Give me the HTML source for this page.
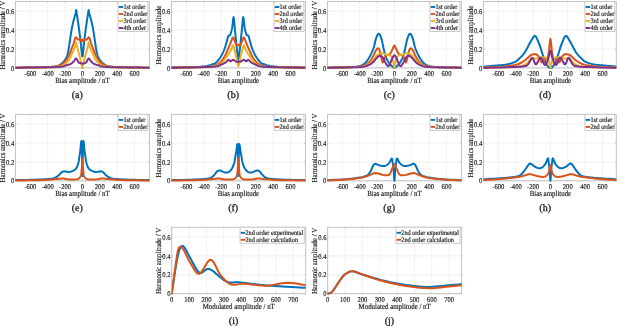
<!DOCTYPE html>
<html><head><meta charset="utf-8"><style>
html,body{margin:0;padding:0;background:#fff;width:617px;height:326px;overflow:hidden}
svg{display:block;will-change:transform}
text{stroke:#1a1a1a;stroke-width:0.15px;text-rendering:geometricPrecision}
.sub{stroke-width:0.3px}
</style></head><body><svg width="617" height="326" viewBox="0 0 617 326" font-family='"Liberation Serif", serif' fill="#1a1a1a"><clipPath id="c00"><rect x="15.40" y="0.50" width="134.00" height="68.60"/></clipPath><line x1="30.33" y1="1.50" x2="30.33" y2="67.90" stroke="#efefef" stroke-width="0.8"/><line x1="47.68" y1="1.50" x2="47.68" y2="67.90" stroke="#efefef" stroke-width="0.8"/><line x1="65.04" y1="1.50" x2="65.04" y2="67.90" stroke="#efefef" stroke-width="0.8"/><line x1="82.40" y1="1.50" x2="82.40" y2="67.90" stroke="#efefef" stroke-width="0.8"/><line x1="99.76" y1="1.50" x2="99.76" y2="67.90" stroke="#efefef" stroke-width="0.8"/><line x1="117.12" y1="1.50" x2="117.12" y2="67.90" stroke="#efefef" stroke-width="0.8"/><line x1="134.47" y1="1.50" x2="134.47" y2="67.90" stroke="#efefef" stroke-width="0.8"/><line x1="15.40" y1="67.90" x2="149.40" y2="67.90" stroke="#efefef" stroke-width="0.8"/><line x1="15.40" y1="49.01" x2="149.40" y2="49.01" stroke="#efefef" stroke-width="0.8"/><line x1="15.40" y1="30.12" x2="149.40" y2="30.12" stroke="#efefef" stroke-width="0.8"/><line x1="15.40" y1="11.23" x2="149.40" y2="11.23" stroke="#efefef" stroke-width="0.8"/><rect x="15.40" y="1.50" width="134.00" height="66.40" fill="none" stroke="#bdbdbd" stroke-width="0.9"/><line x1="30.33" y1="67.90" x2="30.33" y2="66.60" stroke="#bdbdbd" stroke-width="0.8"/><line x1="30.33" y1="1.50" x2="30.33" y2="2.80" stroke="#bdbdbd" stroke-width="0.8"/><line x1="47.68" y1="67.90" x2="47.68" y2="66.60" stroke="#bdbdbd" stroke-width="0.8"/><line x1="47.68" y1="1.50" x2="47.68" y2="2.80" stroke="#bdbdbd" stroke-width="0.8"/><line x1="65.04" y1="67.90" x2="65.04" y2="66.60" stroke="#bdbdbd" stroke-width="0.8"/><line x1="65.04" y1="1.50" x2="65.04" y2="2.80" stroke="#bdbdbd" stroke-width="0.8"/><line x1="82.40" y1="67.90" x2="82.40" y2="66.60" stroke="#bdbdbd" stroke-width="0.8"/><line x1="82.40" y1="1.50" x2="82.40" y2="2.80" stroke="#bdbdbd" stroke-width="0.8"/><line x1="99.76" y1="67.90" x2="99.76" y2="66.60" stroke="#bdbdbd" stroke-width="0.8"/><line x1="99.76" y1="1.50" x2="99.76" y2="2.80" stroke="#bdbdbd" stroke-width="0.8"/><line x1="117.12" y1="67.90" x2="117.12" y2="66.60" stroke="#bdbdbd" stroke-width="0.8"/><line x1="117.12" y1="1.50" x2="117.12" y2="2.80" stroke="#bdbdbd" stroke-width="0.8"/><line x1="134.47" y1="67.90" x2="134.47" y2="66.60" stroke="#bdbdbd" stroke-width="0.8"/><line x1="134.47" y1="1.50" x2="134.47" y2="2.80" stroke="#bdbdbd" stroke-width="0.8"/><line x1="15.40" y1="67.90" x2="16.70" y2="67.90" stroke="#bdbdbd" stroke-width="0.8"/><line x1="149.40" y1="67.90" x2="148.10" y2="67.90" stroke="#bdbdbd" stroke-width="0.8"/><line x1="15.40" y1="49.01" x2="16.70" y2="49.01" stroke="#bdbdbd" stroke-width="0.8"/><line x1="149.40" y1="49.01" x2="148.10" y2="49.01" stroke="#bdbdbd" stroke-width="0.8"/><line x1="15.40" y1="30.12" x2="16.70" y2="30.12" stroke="#bdbdbd" stroke-width="0.8"/><line x1="149.40" y1="30.12" x2="148.10" y2="30.12" stroke="#bdbdbd" stroke-width="0.8"/><line x1="15.40" y1="11.23" x2="16.70" y2="11.23" stroke="#bdbdbd" stroke-width="0.8"/><line x1="149.40" y1="11.23" x2="148.10" y2="11.23" stroke="#bdbdbd" stroke-width="0.8"/><g clip-path="url(#c00)" fill="none" stroke-width="2.0" stroke-linejoin="round" stroke-linecap="round"><polyline stroke="#0072BD" points="15.40,67.71 18.95,67.66 24.05,67.59 29.99,67.50 36.09,67.40 41.64,67.28 45.95,67.14 48.98,67.00 51.28,66.85 53.03,66.69 54.43,66.50 55.65,66.28 56.88,66.01 58.04,65.70 58.96,65.37 59.70,65.00 60.34,64.59 60.94,64.14 61.57,63.65 62.23,63.10 62.85,62.50 63.43,61.85 63.98,61.18 64.49,60.52 64.96,59.87 65.37,59.27 65.74,58.70 66.07,58.13 66.37,57.53 66.66,56.86 66.95,56.09 67.24,55.23 67.51,54.31 67.78,53.32 68.03,52.26 68.27,51.14 68.51,49.95 68.74,48.70 68.96,47.37 69.16,45.97 69.37,44.51 69.59,43.01 69.82,41.45 70.06,39.80 70.32,38.03 70.59,36.20 70.85,34.39 71.12,32.65 71.38,31.06 71.63,29.63 71.87,28.30 72.10,27.05 72.35,25.85 72.59,24.68 72.85,23.51 73.14,22.32 73.44,21.13 73.75,19.97 74.05,18.85 74.34,17.82 74.59,16.90 74.81,16.09 75.01,15.40 75.19,14.79 75.35,14.22 75.50,13.68 75.63,13.12 75.75,12.49 75.84,11.80 75.92,11.13 76.00,10.55 76.07,10.15 76.15,10.00 76.22,10.02 76.26,10.13 76.30,10.42 76.37,10.96 76.48,11.83 76.67,13.12 76.95,14.93 77.31,17.23 77.71,19.87 78.13,22.68 78.55,25.52 78.93,28.23 79.28,30.90 79.63,33.65 79.98,36.44 80.31,39.18 80.63,41.82 80.92,44.29 81.20,46.84 81.45,49.57 81.69,52.20 81.93,54.43 82.16,55.98 82.40,56.57 82.64,55.98 82.87,54.43 83.11,52.20 83.35,49.57 83.60,46.84 83.88,44.29 84.17,41.82 84.49,39.18 84.82,36.44 85.17,33.65 85.52,30.90 85.87,28.23 86.25,25.52 86.67,22.68 87.09,19.87 87.49,17.23 87.85,14.93 88.13,13.12 88.32,11.83 88.43,10.96 88.50,10.42 88.54,10.13 88.58,10.02 88.65,10.00 88.73,10.15 88.80,10.55 88.88,11.13 88.96,11.80 89.05,12.49 89.17,13.12 89.30,13.68 89.45,14.22 89.61,14.79 89.79,15.40 89.99,16.09 90.21,16.90 90.46,17.82 90.75,18.85 91.05,19.97 91.36,21.13 91.66,22.32 91.95,23.51 92.21,24.68 92.45,25.85 92.70,27.05 92.93,28.30 93.17,29.63 93.42,31.06 93.68,32.65 93.95,34.39 94.21,36.20 94.48,38.03 94.74,39.80 94.98,41.45 95.21,43.01 95.43,44.51 95.64,45.97 95.84,47.37 96.06,48.70 96.29,49.95 96.53,51.14 96.77,52.26 97.02,53.32 97.29,54.31 97.56,55.23 97.85,56.09 98.14,56.86 98.43,57.53 98.73,58.13 99.06,58.70 99.43,59.27 99.84,59.87 100.31,60.52 100.82,61.18 101.37,61.85 101.95,62.50 102.57,63.10 103.23,63.65 103.86,64.14 104.46,64.59 105.10,65.00 105.84,65.37 106.76,65.70 107.92,66.01 109.15,66.28 110.37,66.50 111.77,66.69 113.52,66.85 115.82,67.00 118.85,67.14 123.16,67.28 128.71,67.40 134.81,67.50 140.75,67.59 145.85,67.66 149.40,67.71"/><polyline stroke="#D95319" points="15.40,67.71 19.38,67.64 25.12,67.54 31.81,67.42 38.63,67.28 44.77,67.13 49.42,66.96 52.50,66.77 54.64,66.57 56.10,66.35 57.14,66.11 58.04,65.84 59.05,65.54 60.09,65.21 60.91,64.86 61.59,64.48 62.17,64.07 62.73,63.64 63.31,63.18 63.89,62.70 64.44,62.22 64.95,61.70 65.44,61.15 65.93,60.54 66.43,59.87 66.94,59.12 67.46,58.30 67.97,57.42 68.46,56.51 68.94,55.59 69.38,54.68 69.79,53.76 70.16,52.82 70.52,51.87 70.86,50.92 71.20,49.96 71.55,49.01 71.92,48.07 72.28,47.13 72.65,46.19 73.01,45.25 73.37,44.30 73.72,43.34 74.06,42.27 74.39,41.08 74.71,39.88 75.03,38.78 75.37,37.92 75.72,37.39 76.09,37.31 76.48,37.59 76.88,38.11 77.28,38.70 77.68,39.23 78.06,39.56 78.44,39.67 78.84,39.66 79.22,39.58 79.59,39.50 79.93,39.48 80.23,39.56 80.48,39.81 80.69,40.19 80.86,40.63 81.03,41.03 81.19,41.34 81.36,41.45 81.54,41.31 81.71,40.96 81.88,40.51 82.06,40.05 82.23,39.70 82.40,39.56 82.57,39.70 82.74,40.05 82.92,40.51 83.09,40.96 83.26,41.31 83.44,41.45 83.61,41.34 83.77,41.03 83.94,40.63 84.11,40.19 84.32,39.81 84.57,39.56 84.87,39.48 85.21,39.50 85.58,39.58 85.96,39.66 86.36,39.67 86.74,39.56 87.12,39.23 87.52,38.70 87.92,38.11 88.32,37.59 88.71,37.31 89.08,37.39 89.43,37.92 89.77,38.78 90.09,39.88 90.41,41.08 90.74,42.27 91.08,43.34 91.43,44.30 91.79,45.25 92.15,46.19 92.52,47.13 92.88,48.07 93.25,49.01 93.60,49.96 93.94,50.92 94.28,51.87 94.64,52.82 95.01,53.76 95.42,54.68 95.86,55.59 96.34,56.51 96.83,57.42 97.34,58.30 97.86,59.12 98.37,59.87 98.87,60.54 99.36,61.15 99.85,61.70 100.36,62.22 100.91,62.70 101.49,63.18 102.07,63.64 102.63,64.07 103.21,64.48 103.89,64.86 104.71,65.21 105.75,65.54 106.76,65.84 107.66,66.11 108.70,66.35 110.16,66.57 112.30,66.77 115.38,66.96 120.03,67.13 126.17,67.28 132.99,67.42 139.68,67.54 145.42,67.64 149.40,67.71"/><polyline stroke="#EDB120" points="15.40,67.81 19.38,67.76 25.12,67.70 31.81,67.63 38.63,67.54 44.77,67.44 49.42,67.33 52.50,67.21 54.64,67.07 56.10,66.91 57.14,66.75 58.04,66.57 59.05,66.39 60.09,66.20 60.91,66.01 61.59,65.80 62.17,65.58 62.73,65.34 63.31,65.07 63.89,64.77 64.44,64.45 64.95,64.12 65.44,63.75 65.93,63.34 66.43,62.89 66.94,62.40 67.47,61.86 67.98,61.29 68.48,60.68 68.95,60.05 69.38,59.40 69.75,58.73 70.06,58.05 70.34,57.33 70.62,56.59 70.93,55.80 71.29,54.96 71.73,54.04 72.22,53.04 72.74,52.00 73.26,50.96 73.74,49.95 74.16,49.01 74.52,48.11 74.84,47.22 75.14,46.36 75.40,45.56 75.62,44.86 75.80,44.29 75.94,43.84 76.02,43.50 76.06,43.25 76.08,43.08 76.11,42.99 76.15,42.96 76.15,42.80 76.07,42.45 76.00,42.19 76.00,42.24 76.14,42.86 76.50,44.29 77.18,46.96 78.16,50.75 79.28,55.11 80.39,59.48 81.37,63.30 82.05,66.01 82.41,67.52 82.55,68.25 82.55,68.43 82.48,68.28 82.40,68.03 82.40,67.90 82.40,68.03 82.32,68.28 82.25,68.43 82.25,68.25 82.39,67.52 82.75,66.01 83.43,63.30 84.41,59.48 85.52,55.11 86.64,50.75 87.62,46.96 88.30,44.29 88.66,42.86 88.80,42.24 88.80,42.19 88.73,42.45 88.65,42.80 88.65,42.96 88.69,42.99 88.72,43.08 88.74,43.25 88.78,43.50 88.86,43.84 89.00,44.29 89.18,44.86 89.40,45.56 89.66,46.36 89.96,47.22 90.28,48.11 90.64,49.01 91.06,49.95 91.54,50.96 92.06,52.00 92.58,53.04 93.07,54.04 93.51,54.96 93.87,55.80 94.18,56.59 94.46,57.33 94.74,58.05 95.05,58.73 95.42,59.40 95.85,60.05 96.32,60.68 96.82,61.29 97.33,61.86 97.86,62.40 98.37,62.89 98.87,63.34 99.36,63.75 99.85,64.12 100.36,64.45 100.91,64.77 101.49,65.07 102.07,65.34 102.63,65.58 103.21,65.80 103.89,66.01 104.71,66.20 105.75,66.39 106.76,66.57 107.66,66.75 108.70,66.91 110.16,67.07 112.30,67.21 115.38,67.33 120.03,67.44 126.17,67.54 132.99,67.63 139.68,67.70 145.42,67.76 149.40,67.81"/><polyline stroke="#7E2F8E" points="15.40,67.81 20.28,67.72 27.34,67.62 35.55,67.49 43.89,67.33 51.34,67.16 56.88,66.96 60.38,66.72 62.61,66.45 63.96,66.15 64.79,65.85 65.49,65.54 66.43,65.26 67.51,65.00 68.41,64.76 69.18,64.52 69.86,64.27 70.49,63.99 71.12,63.65 71.73,63.24 72.29,62.78 72.80,62.28 73.28,61.77 73.73,61.28 74.16,60.82 74.54,60.32 74.88,59.77 75.20,59.22 75.50,58.77 75.81,58.49 76.15,58.45 76.53,58.76 76.93,59.36 77.34,60.14 77.75,60.96 78.14,61.70 78.49,62.23 78.81,62.56 79.10,62.78 79.37,62.91 79.64,63.00 79.92,63.08 80.23,63.18 80.57,63.29 80.92,63.40 81.29,63.50 81.66,63.58 82.03,63.63 82.40,63.65 82.77,63.63 83.14,63.58 83.51,63.50 83.88,63.40 84.23,63.29 84.57,63.18 84.88,63.08 85.16,63.00 85.43,62.91 85.70,62.78 85.99,62.56 86.31,62.23 86.66,61.70 87.05,60.96 87.46,60.14 87.87,59.36 88.27,58.76 88.65,58.45 88.99,58.49 89.30,58.77 89.60,59.22 89.92,59.77 90.26,60.32 90.64,60.82 91.07,61.28 91.52,61.77 92.00,62.28 92.51,62.78 93.07,63.24 93.68,63.65 94.31,63.99 94.94,64.27 95.62,64.52 96.39,64.76 97.29,65.00 98.37,65.26 99.31,65.54 100.01,65.85 100.84,66.15 102.19,66.45 104.42,66.72 107.92,66.96 113.46,67.16 120.91,67.33 129.25,67.49 137.46,67.62 144.52,67.72 149.40,67.81"/></g><text transform="translate(30.33,75.90) scale(1,1.12)" font-size="6.6" text-anchor="middle">-600</text><text transform="translate(47.68,75.90) scale(1,1.12)" font-size="6.6" text-anchor="middle">-400</text><text transform="translate(65.04,75.90) scale(1,1.12)" font-size="6.6" text-anchor="middle">-200</text><text transform="translate(82.40,75.90) scale(1,1.12)" font-size="6.6" text-anchor="middle">0</text><text transform="translate(99.76,75.90) scale(1,1.12)" font-size="6.6" text-anchor="middle">200</text><text transform="translate(117.12,75.90) scale(1,1.12)" font-size="6.6" text-anchor="middle">400</text><text transform="translate(134.47,75.90) scale(1,1.12)" font-size="6.6" text-anchor="middle">600</text><text transform="translate(14.25,70.50) scale(1,1.12)" font-size="6.6" text-anchor="end">0</text><text transform="translate(14.25,51.61) scale(1,1.12)" font-size="6.6" text-anchor="end">0.2</text><text transform="translate(14.25,32.72) scale(1,1.12)" font-size="6.6" text-anchor="end">0.4</text><text transform="translate(14.25,13.83) scale(1,1.12)" font-size="6.6" text-anchor="end">0.6</text><text transform="translate(82.40,82.90) scale(1,1.12)" font-size="6.9" text-anchor="middle">Bias amplitude / nT</text><text transform="translate(5.00,35.20) rotate(-90) scale(1,1.12)" font-size="6.800000000000001" text-anchor="middle">Harmonics amplitude / V</text><text x="77.20" y="98.30" font-size="10" text-anchor="middle" class="sub">(a)</text><rect x="118.10" y="1.40" width="29.80" height="30.00" fill="#fff" stroke="#bdbdbd" stroke-width="0.8"/><line x1="118.70" y1="7.00" x2="123.30" y2="7.00" stroke="#0072BD" stroke-width="1.9"/><text transform="translate(123.50,9.10) scale(1,1.12)" font-size="6.2">1st order</text><line x1="118.70" y1="14.00" x2="123.30" y2="14.00" stroke="#D95319" stroke-width="1.9"/><text transform="translate(123.50,16.10) scale(1,1.12)" font-size="6.2">2nd order</text><line x1="118.70" y1="21.00" x2="123.30" y2="21.00" stroke="#EDB120" stroke-width="1.9"/><text transform="translate(123.50,23.10) scale(1,1.12)" font-size="6.2">3rd order</text><line x1="118.70" y1="28.00" x2="123.30" y2="28.00" stroke="#7E2F8E" stroke-width="1.9"/><text transform="translate(123.50,30.10) scale(1,1.12)" font-size="6.2">4th order</text><clipPath id="c10"><rect x="171.40" y="0.50" width="134.00" height="68.60"/></clipPath><line x1="186.33" y1="1.50" x2="186.33" y2="67.90" stroke="#efefef" stroke-width="0.8"/><line x1="203.68" y1="1.50" x2="203.68" y2="67.90" stroke="#efefef" stroke-width="0.8"/><line x1="221.04" y1="1.50" x2="221.04" y2="67.90" stroke="#efefef" stroke-width="0.8"/><line x1="238.40" y1="1.50" x2="238.40" y2="67.90" stroke="#efefef" stroke-width="0.8"/><line x1="255.76" y1="1.50" x2="255.76" y2="67.90" stroke="#efefef" stroke-width="0.8"/><line x1="273.12" y1="1.50" x2="273.12" y2="67.90" stroke="#efefef" stroke-width="0.8"/><line x1="290.47" y1="1.50" x2="290.47" y2="67.90" stroke="#efefef" stroke-width="0.8"/><line x1="171.40" y1="67.90" x2="305.40" y2="67.90" stroke="#efefef" stroke-width="0.8"/><line x1="171.40" y1="49.01" x2="305.40" y2="49.01" stroke="#efefef" stroke-width="0.8"/><line x1="171.40" y1="30.12" x2="305.40" y2="30.12" stroke="#efefef" stroke-width="0.8"/><line x1="171.40" y1="11.23" x2="305.40" y2="11.23" stroke="#efefef" stroke-width="0.8"/><rect x="171.40" y="1.50" width="134.00" height="66.40" fill="none" stroke="#bdbdbd" stroke-width="0.9"/><line x1="186.33" y1="67.90" x2="186.33" y2="66.60" stroke="#bdbdbd" stroke-width="0.8"/><line x1="186.33" y1="1.50" x2="186.33" y2="2.80" stroke="#bdbdbd" stroke-width="0.8"/><line x1="203.68" y1="67.90" x2="203.68" y2="66.60" stroke="#bdbdbd" stroke-width="0.8"/><line x1="203.68" y1="1.50" x2="203.68" y2="2.80" stroke="#bdbdbd" stroke-width="0.8"/><line x1="221.04" y1="67.90" x2="221.04" y2="66.60" stroke="#bdbdbd" stroke-width="0.8"/><line x1="221.04" y1="1.50" x2="221.04" y2="2.80" stroke="#bdbdbd" stroke-width="0.8"/><line x1="238.40" y1="67.90" x2="238.40" y2="66.60" stroke="#bdbdbd" stroke-width="0.8"/><line x1="238.40" y1="1.50" x2="238.40" y2="2.80" stroke="#bdbdbd" stroke-width="0.8"/><line x1="255.76" y1="67.90" x2="255.76" y2="66.60" stroke="#bdbdbd" stroke-width="0.8"/><line x1="255.76" y1="1.50" x2="255.76" y2="2.80" stroke="#bdbdbd" stroke-width="0.8"/><line x1="273.12" y1="67.90" x2="273.12" y2="66.60" stroke="#bdbdbd" stroke-width="0.8"/><line x1="273.12" y1="1.50" x2="273.12" y2="2.80" stroke="#bdbdbd" stroke-width="0.8"/><line x1="290.47" y1="67.90" x2="290.47" y2="66.60" stroke="#bdbdbd" stroke-width="0.8"/><line x1="290.47" y1="1.50" x2="290.47" y2="2.80" stroke="#bdbdbd" stroke-width="0.8"/><line x1="171.40" y1="67.90" x2="172.70" y2="67.90" stroke="#bdbdbd" stroke-width="0.8"/><line x1="305.40" y1="67.90" x2="304.10" y2="67.90" stroke="#bdbdbd" stroke-width="0.8"/><line x1="171.40" y1="49.01" x2="172.70" y2="49.01" stroke="#bdbdbd" stroke-width="0.8"/><line x1="305.40" y1="49.01" x2="304.10" y2="49.01" stroke="#bdbdbd" stroke-width="0.8"/><line x1="171.40" y1="30.12" x2="172.70" y2="30.12" stroke="#bdbdbd" stroke-width="0.8"/><line x1="305.40" y1="30.12" x2="304.10" y2="30.12" stroke="#bdbdbd" stroke-width="0.8"/><line x1="171.40" y1="11.23" x2="172.70" y2="11.23" stroke="#bdbdbd" stroke-width="0.8"/><line x1="305.40" y1="11.23" x2="304.10" y2="11.23" stroke="#bdbdbd" stroke-width="0.8"/><g clip-path="url(#c10)" fill="none" stroke-width="2.0" stroke-linejoin="round" stroke-linecap="round"><polyline stroke="#0072BD" points="171.40,67.52 174.65,67.45 179.33,67.35 184.78,67.23 190.36,67.09 195.43,66.93 199.35,66.77 202.07,66.58 204.10,66.37 205.62,66.14 206.81,65.91 207.84,65.67 208.89,65.44 209.88,65.22 210.66,64.99 211.28,64.76 211.80,64.53 212.29,64.32 212.80,64.12 213.28,63.99 213.69,63.94 214.06,63.89 214.44,63.79 214.87,63.58 215.40,63.18 216.05,62.58 216.79,61.83 217.58,60.96 218.39,60.01 219.18,59.01 219.91,57.98 220.60,56.93 221.28,55.81 221.93,54.65 222.56,53.43 223.16,52.18 223.73,50.90 224.27,49.54 224.77,48.09 225.25,46.61 225.69,45.13 226.11,43.71 226.51,42.40 226.87,41.15 227.19,39.91 227.48,38.73 227.76,37.65 228.04,36.72 228.33,35.98 228.64,35.54 228.94,35.40 229.24,35.40 229.55,35.41 229.85,35.27 230.16,34.84 230.47,34.11 230.79,33.17 231.12,32.10 231.43,30.93 231.72,29.72 231.98,28.51 232.20,27.25 232.40,25.85 232.58,24.42 232.74,23.03 232.88,21.75 233.02,20.67 233.14,19.75 233.23,18.90 233.31,18.16 233.39,17.59 233.46,17.22 233.54,17.08 233.61,17.11 233.67,17.25 233.73,17.59 233.80,18.22 233.91,19.22 234.06,20.67 234.27,22.73 234.52,25.36 234.80,28.35 235.11,31.53 235.41,34.70 235.71,37.68 236.01,40.59 236.34,43.63 236.67,46.67 236.99,49.56 237.28,52.18 237.53,54.39 237.73,56.27 237.89,57.93 238.03,59.32 238.15,60.38 238.27,61.05 238.40,61.29 238.53,61.05 238.65,60.38 238.77,59.32 238.91,57.93 239.07,56.27 239.27,54.39 239.52,52.18 239.81,49.56 240.13,46.67 240.46,43.63 240.79,40.59 241.09,37.68 241.39,34.70 241.69,31.53 242.00,28.35 242.28,25.36 242.53,22.73 242.74,20.67 242.89,19.22 243.00,18.22 243.07,17.59 243.13,17.25 243.19,17.11 243.26,17.08 243.34,17.22 243.41,17.59 243.49,18.16 243.57,18.90 243.66,19.75 243.78,20.67 243.92,21.75 244.06,23.03 244.22,24.42 244.40,25.85 244.60,27.25 244.82,28.51 245.08,29.72 245.37,30.93 245.68,32.10 246.01,33.17 246.33,34.11 246.64,34.84 246.95,35.27 247.25,35.41 247.56,35.40 247.86,35.40 248.16,35.54 248.47,35.98 248.76,36.72 249.04,37.65 249.32,38.73 249.61,39.91 249.93,41.15 250.29,42.40 250.69,43.71 251.11,45.13 251.55,46.61 252.03,48.09 252.53,49.54 253.07,50.90 253.64,52.18 254.24,53.43 254.87,54.65 255.52,55.81 256.20,56.93 256.89,57.98 257.62,59.01 258.41,60.01 259.22,60.96 260.01,61.83 260.75,62.58 261.40,63.18 261.93,63.58 262.36,63.79 262.74,63.89 263.11,63.94 263.52,63.99 264.00,64.12 264.51,64.32 265.00,64.53 265.52,64.76 266.14,64.99 266.92,65.22 267.91,65.44 268.96,65.67 269.99,65.91 271.18,66.14 272.70,66.37 274.73,66.58 277.45,66.77 281.37,66.93 286.44,67.09 292.02,67.23 297.47,67.35 302.15,67.45 305.40,67.52"/><polyline stroke="#D95319" points="171.40,67.71 175.97,67.57 182.60,67.39 190.29,67.16 198.08,66.91 204.98,66.65 210.02,66.39 213.01,66.13 214.71,65.86 215.53,65.59 215.86,65.29 216.11,64.96 216.70,64.59 217.53,64.21 218.24,63.81 218.88,63.39 219.48,62.92 220.07,62.38 220.70,61.76 221.33,61.09 221.95,60.40 222.56,59.64 223.18,58.77 223.83,57.76 224.51,56.57 225.27,55.08 226.10,53.31 226.95,51.40 227.79,49.48 228.55,47.69 229.20,46.18 229.73,44.93 230.16,43.84 230.53,42.88 230.85,42.03 231.15,41.25 231.46,40.51 231.75,39.78 232.00,39.08 232.24,38.45 232.46,37.95 232.69,37.61 232.93,37.49 233.19,37.63 233.44,38.00 233.70,38.54 233.96,39.19 234.22,39.86 234.49,40.51 234.78,41.19 235.08,41.97 235.39,42.79 235.69,43.58 235.97,44.26 236.23,44.76 236.45,45.07 236.65,45.23 236.84,45.29 237.01,45.28 237.18,45.25 237.36,45.23 237.54,45.20 237.71,45.11 237.88,45.00 238.06,44.88 238.23,44.79 238.40,44.76 238.57,44.79 238.74,44.88 238.92,45.00 239.09,45.11 239.26,45.20 239.44,45.23 239.62,45.25 239.79,45.28 239.96,45.29 240.15,45.23 240.35,45.07 240.57,44.76 240.83,44.26 241.11,43.58 241.41,42.79 241.72,41.97 242.02,41.19 242.31,40.51 242.58,39.86 242.84,39.19 243.10,38.54 243.36,38.00 243.61,37.63 243.87,37.49 244.11,37.61 244.34,37.95 244.56,38.45 244.80,39.08 245.05,39.78 245.34,40.51 245.65,41.25 245.95,42.03 246.27,42.88 246.64,43.84 247.07,44.93 247.60,46.18 248.25,47.69 249.01,49.48 249.85,51.40 250.70,53.31 251.53,55.08 252.29,56.57 252.97,57.76 253.62,58.77 254.24,59.64 254.85,60.40 255.47,61.09 256.10,61.76 256.73,62.38 257.32,62.92 257.92,63.39 258.56,63.81 259.27,64.21 260.10,64.59 260.69,64.96 260.94,65.29 261.27,65.59 262.09,65.86 263.79,66.13 266.78,66.39 271.82,66.65 278.72,66.91 286.51,67.16 294.20,67.39 300.83,67.57 305.40,67.71"/><polyline stroke="#EDB120" points="171.40,67.81 175.15,67.74 180.53,67.65 186.81,67.55 193.25,67.42 199.12,67.29 203.68,67.14 206.90,67.00 209.35,66.85 211.23,66.68 212.73,66.50 214.06,66.28 215.40,66.01 216.68,65.69 217.73,65.33 218.59,64.94 219.34,64.52 220.02,64.08 220.70,63.65 221.31,63.25 221.82,62.87 222.26,62.49 222.69,62.04 223.16,61.50 223.73,60.82 224.43,59.94 225.21,58.90 226.03,57.76 226.85,56.59 227.63,55.45 228.33,54.39 228.96,53.42 229.54,52.46 230.09,51.54 230.59,50.65 231.05,49.80 231.46,49.01 231.80,48.19 232.07,47.32 232.29,46.49 232.50,45.80 232.70,45.35 232.93,45.23 233.18,45.48 233.42,46.04 233.67,46.83 233.93,47.79 234.20,48.85 234.49,49.95 234.83,51.16 235.19,52.54 235.57,54.03 235.95,55.55 236.32,57.05 236.66,58.45 236.98,59.94 237.27,61.60 237.56,63.24 237.84,64.65 238.12,65.64 238.40,66.01 238.68,65.64 238.96,64.65 239.24,63.24 239.53,61.60 239.82,59.94 240.14,58.45 240.48,57.05 240.85,55.55 241.23,54.03 241.61,52.54 241.97,51.16 242.31,49.95 242.60,48.85 242.87,47.79 243.13,46.83 243.38,46.04 243.62,45.48 243.87,45.23 244.10,45.35 244.30,45.80 244.51,46.49 244.73,47.32 245.00,48.19 245.34,49.01 245.75,49.80 246.21,50.65 246.71,51.54 247.26,52.46 247.84,53.42 248.47,54.39 249.17,55.45 249.95,56.59 250.77,57.76 251.59,58.90 252.37,59.94 253.07,60.82 253.64,61.50 254.11,62.04 254.54,62.49 254.98,62.87 255.49,63.25 256.10,63.65 256.78,64.08 257.46,64.52 258.21,64.94 259.07,65.33 260.12,65.69 261.40,66.01 262.74,66.28 264.07,66.50 265.57,66.68 267.45,66.85 269.90,67.00 273.12,67.14 277.68,67.29 283.55,67.42 289.99,67.55 296.27,67.65 301.65,67.74 305.40,67.81"/><polyline stroke="#7E2F8E" points="171.40,67.81 176.23,67.71 183.22,67.58 191.34,67.42 199.58,67.24 206.93,67.02 212.36,66.77 215.72,66.47 217.79,66.13 218.97,65.76 219.63,65.37 220.20,64.98 221.04,64.59 222.09,64.21 223.01,63.82 223.81,63.43 224.54,63.03 225.20,62.63 225.82,62.23 226.37,61.80 226.83,61.31 227.23,60.82 227.60,60.38 227.95,60.05 228.33,59.87 228.72,59.92 229.10,60.17 229.47,60.52 229.84,60.89 230.21,61.17 230.59,61.29 230.98,61.19 231.38,60.94 231.78,60.61 232.17,60.27 232.56,60.00 232.93,59.87 233.29,59.89 233.63,60.01 233.97,60.20 234.30,60.41 234.61,60.63 234.93,60.82 235.23,60.98 235.53,61.17 235.81,61.35 236.10,61.52 236.38,61.66 236.66,61.76 236.95,61.82 237.24,61.83 237.53,61.82 237.82,61.80 238.11,61.77 238.40,61.76 238.69,61.77 238.98,61.80 239.27,61.82 239.56,61.83 239.85,61.82 240.14,61.76 240.42,61.66 240.70,61.52 240.99,61.35 241.27,61.17 241.57,60.98 241.87,60.82 242.19,60.63 242.50,60.41 242.83,60.20 243.17,60.01 243.51,59.89 243.87,59.87 244.24,60.00 244.63,60.27 245.02,60.61 245.42,60.94 245.82,61.19 246.21,61.29 246.59,61.17 246.96,60.89 247.33,60.52 247.70,60.17 248.08,59.92 248.47,59.87 248.85,60.05 249.20,60.38 249.57,60.82 249.97,61.31 250.43,61.80 250.98,62.23 251.60,62.63 252.26,63.03 252.99,63.43 253.79,63.82 254.71,64.21 255.76,64.59 256.60,64.98 257.17,65.37 257.83,65.76 259.01,66.13 261.08,66.47 264.44,66.77 269.87,67.02 277.22,67.24 285.46,67.42 293.58,67.58 300.57,67.71 305.40,67.81"/></g><text transform="translate(186.33,75.90) scale(1,1.12)" font-size="6.6" text-anchor="middle">-600</text><text transform="translate(203.68,75.90) scale(1,1.12)" font-size="6.6" text-anchor="middle">-400</text><text transform="translate(221.04,75.90) scale(1,1.12)" font-size="6.6" text-anchor="middle">-200</text><text transform="translate(238.40,75.90) scale(1,1.12)" font-size="6.6" text-anchor="middle">0</text><text transform="translate(255.76,75.90) scale(1,1.12)" font-size="6.6" text-anchor="middle">200</text><text transform="translate(273.12,75.90) scale(1,1.12)" font-size="6.6" text-anchor="middle">400</text><text transform="translate(290.47,75.90) scale(1,1.12)" font-size="6.6" text-anchor="middle">600</text><text transform="translate(170.25,70.50) scale(1,1.12)" font-size="6.6" text-anchor="end">0</text><text transform="translate(170.25,51.61) scale(1,1.12)" font-size="6.6" text-anchor="end">0.2</text><text transform="translate(170.25,32.72) scale(1,1.12)" font-size="6.6" text-anchor="end">0.4</text><text transform="translate(170.25,13.83) scale(1,1.12)" font-size="6.6" text-anchor="end">0.6</text><text transform="translate(238.40,82.90) scale(1,1.12)" font-size="6.9" text-anchor="middle">Bias amplitude</text><text transform="translate(161.00,35.20) rotate(-90) scale(1,1.12)" font-size="6.800000000000001" text-anchor="middle">Harmonics amplitude</text><text x="233.20" y="98.30" font-size="10" text-anchor="middle" class="sub">(b)</text><rect x="274.10" y="1.40" width="29.80" height="30.00" fill="#fff" stroke="#bdbdbd" stroke-width="0.8"/><line x1="274.70" y1="7.00" x2="279.30" y2="7.00" stroke="#0072BD" stroke-width="1.9"/><text transform="translate(279.50,9.10) scale(1,1.12)" font-size="6.2">1st order</text><line x1="274.70" y1="14.00" x2="279.30" y2="14.00" stroke="#D95319" stroke-width="1.9"/><text transform="translate(279.50,16.10) scale(1,1.12)" font-size="6.2">2nd order</text><line x1="274.70" y1="21.00" x2="279.30" y2="21.00" stroke="#EDB120" stroke-width="1.9"/><text transform="translate(279.50,23.10) scale(1,1.12)" font-size="6.2">3rd order</text><line x1="274.70" y1="28.00" x2="279.30" y2="28.00" stroke="#7E2F8E" stroke-width="1.9"/><text transform="translate(279.50,30.10) scale(1,1.12)" font-size="6.2">4th order</text><clipPath id="c20"><rect x="327.40" y="0.50" width="134.00" height="68.60"/></clipPath><line x1="342.33" y1="1.50" x2="342.33" y2="67.90" stroke="#efefef" stroke-width="0.8"/><line x1="359.68" y1="1.50" x2="359.68" y2="67.90" stroke="#efefef" stroke-width="0.8"/><line x1="377.04" y1="1.50" x2="377.04" y2="67.90" stroke="#efefef" stroke-width="0.8"/><line x1="394.40" y1="1.50" x2="394.40" y2="67.90" stroke="#efefef" stroke-width="0.8"/><line x1="411.76" y1="1.50" x2="411.76" y2="67.90" stroke="#efefef" stroke-width="0.8"/><line x1="429.12" y1="1.50" x2="429.12" y2="67.90" stroke="#efefef" stroke-width="0.8"/><line x1="446.47" y1="1.50" x2="446.47" y2="67.90" stroke="#efefef" stroke-width="0.8"/><line x1="327.40" y1="67.90" x2="461.40" y2="67.90" stroke="#efefef" stroke-width="0.8"/><line x1="327.40" y1="49.01" x2="461.40" y2="49.01" stroke="#efefef" stroke-width="0.8"/><line x1="327.40" y1="30.12" x2="461.40" y2="30.12" stroke="#efefef" stroke-width="0.8"/><line x1="327.40" y1="11.23" x2="461.40" y2="11.23" stroke="#efefef" stroke-width="0.8"/><rect x="327.40" y="1.50" width="134.00" height="66.40" fill="none" stroke="#bdbdbd" stroke-width="0.9"/><line x1="342.33" y1="67.90" x2="342.33" y2="66.60" stroke="#bdbdbd" stroke-width="0.8"/><line x1="342.33" y1="1.50" x2="342.33" y2="2.80" stroke="#bdbdbd" stroke-width="0.8"/><line x1="359.68" y1="67.90" x2="359.68" y2="66.60" stroke="#bdbdbd" stroke-width="0.8"/><line x1="359.68" y1="1.50" x2="359.68" y2="2.80" stroke="#bdbdbd" stroke-width="0.8"/><line x1="377.04" y1="67.90" x2="377.04" y2="66.60" stroke="#bdbdbd" stroke-width="0.8"/><line x1="377.04" y1="1.50" x2="377.04" y2="2.80" stroke="#bdbdbd" stroke-width="0.8"/><line x1="394.40" y1="67.90" x2="394.40" y2="66.60" stroke="#bdbdbd" stroke-width="0.8"/><line x1="394.40" y1="1.50" x2="394.40" y2="2.80" stroke="#bdbdbd" stroke-width="0.8"/><line x1="411.76" y1="67.90" x2="411.76" y2="66.60" stroke="#bdbdbd" stroke-width="0.8"/><line x1="411.76" y1="1.50" x2="411.76" y2="2.80" stroke="#bdbdbd" stroke-width="0.8"/><line x1="429.12" y1="67.90" x2="429.12" y2="66.60" stroke="#bdbdbd" stroke-width="0.8"/><line x1="429.12" y1="1.50" x2="429.12" y2="2.80" stroke="#bdbdbd" stroke-width="0.8"/><line x1="446.47" y1="67.90" x2="446.47" y2="66.60" stroke="#bdbdbd" stroke-width="0.8"/><line x1="446.47" y1="1.50" x2="446.47" y2="2.80" stroke="#bdbdbd" stroke-width="0.8"/><line x1="327.40" y1="67.90" x2="328.70" y2="67.90" stroke="#bdbdbd" stroke-width="0.8"/><line x1="461.40" y1="67.90" x2="460.10" y2="67.90" stroke="#bdbdbd" stroke-width="0.8"/><line x1="327.40" y1="49.01" x2="328.70" y2="49.01" stroke="#bdbdbd" stroke-width="0.8"/><line x1="461.40" y1="49.01" x2="460.10" y2="49.01" stroke="#bdbdbd" stroke-width="0.8"/><line x1="327.40" y1="30.12" x2="328.70" y2="30.12" stroke="#bdbdbd" stroke-width="0.8"/><line x1="461.40" y1="30.12" x2="460.10" y2="30.12" stroke="#bdbdbd" stroke-width="0.8"/><line x1="327.40" y1="11.23" x2="328.70" y2="11.23" stroke="#bdbdbd" stroke-width="0.8"/><line x1="461.40" y1="11.23" x2="460.10" y2="11.23" stroke="#bdbdbd" stroke-width="0.8"/><g clip-path="url(#c20)" fill="none" stroke-width="2.0" stroke-linejoin="round" stroke-linecap="round"><polyline stroke="#0072BD" points="327.40,67.71 330.14,67.66 334.07,67.59 338.66,67.50 343.37,67.40 347.66,67.28 351.01,67.14 353.36,67.01 355.13,66.87 356.50,66.72 357.60,66.54 358.61,66.30 359.68,66.01 360.77,65.66 361.73,65.26 362.60,64.82 363.39,64.32 364.15,63.78 364.89,63.18 365.59,62.55 366.21,61.92 366.80,61.23 367.37,60.45 367.97,59.54 368.62,58.45 369.36,57.16 370.16,55.69 370.98,54.09 371.79,52.40 372.55,50.69 373.22,49.01 373.79,47.27 374.29,45.41 374.73,43.53 375.15,41.71 375.56,40.05 376.00,38.62 376.45,37.37 376.90,36.21 377.35,35.21 377.80,34.41 378.24,33.89 378.69,33.71 379.14,33.87 379.59,34.34 380.03,35.09 380.48,36.07 380.93,37.26 381.38,38.62 381.85,40.31 382.33,42.38 382.81,44.65 383.29,46.95 383.74,49.09 384.16,50.90 384.53,52.35 384.87,53.59 385.18,54.68 385.49,55.66 385.81,56.58 386.16,57.51 386.53,58.42 386.90,59.26 387.29,60.05 387.70,60.80 388.13,61.52 388.59,62.23 389.08,62.94 389.62,63.63 390.18,64.30 390.74,64.93 391.29,65.50 391.80,66.01 392.27,66.48 392.71,66.92 393.14,67.31 393.55,67.62 393.97,67.83 394.40,67.90 394.83,67.83 395.25,67.62 395.66,67.31 396.09,66.92 396.53,66.48 397.00,66.01 397.51,65.50 398.06,64.93 398.62,64.30 399.18,63.63 399.72,62.94 400.21,62.23 400.67,61.52 401.10,60.80 401.51,60.05 401.90,59.26 402.27,58.42 402.64,57.51 402.99,56.58 403.31,55.66 403.62,54.68 403.93,53.59 404.27,52.35 404.64,50.90 405.06,49.09 405.51,46.95 405.99,44.65 406.47,42.38 406.95,40.31 407.42,38.62 407.87,37.26 408.32,36.07 408.77,35.09 409.21,34.34 409.66,33.87 410.11,33.71 410.56,33.89 411.00,34.41 411.45,35.21 411.90,36.21 412.35,37.37 412.80,38.62 413.24,40.05 413.65,41.71 414.07,43.53 414.51,45.41 415.01,47.27 415.58,49.01 416.25,50.69 417.01,52.40 417.82,54.09 418.64,55.69 419.44,57.16 420.18,58.45 420.83,59.54 421.43,60.45 422.00,61.23 422.59,61.92 423.21,62.55 423.91,63.18 424.65,63.78 425.41,64.32 426.20,64.82 427.07,65.26 428.03,65.66 429.12,66.01 430.19,66.30 431.20,66.54 432.30,66.72 433.67,66.87 435.44,67.01 437.79,67.14 441.14,67.28 445.43,67.40 450.14,67.50 454.73,67.59 458.66,67.66 461.40,67.71"/><polyline stroke="#D95319" points="327.40,67.71 331.18,67.61 336.63,67.49 342.98,67.33 349.46,67.13 355.28,66.85 359.68,66.48 362.58,66.03 364.56,65.50 365.90,64.90 366.85,64.23 367.67,63.50 368.62,62.71 369.63,61.82 370.45,60.85 371.15,59.81 371.77,58.73 372.36,57.64 372.96,56.57 373.57,55.43 374.14,54.20 374.68,52.96 375.20,51.79 375.69,50.76 376.17,49.95 376.64,49.34 377.09,48.85 377.52,48.51 377.93,48.33 378.32,48.33 378.69,48.54 379.03,48.98 379.33,49.65 379.62,50.50 379.90,51.50 380.19,52.59 380.51,53.73 380.87,55.14 381.24,56.87 381.63,58.71 382.02,60.40 382.40,61.72 382.77,62.42 383.13,62.36 383.47,61.70 383.82,60.66 384.16,59.46 384.50,58.34 384.85,57.51 385.20,56.96 385.54,56.50 385.88,56.11 386.23,55.77 386.61,55.46 387.02,55.15 387.48,54.90 387.99,54.73 388.51,54.59 389.05,54.41 389.57,54.15 390.06,53.73 390.53,53.12 390.99,52.36 391.44,51.50 391.88,50.62 392.29,49.76 392.66,49.01 393.00,48.28 393.31,47.49 393.59,46.75 393.85,46.12 394.12,45.68 394.40,45.51 394.68,45.68 394.95,46.12 395.21,46.75 395.49,47.49 395.80,48.28 396.14,49.01 396.51,49.76 396.92,50.62 397.36,51.50 397.81,52.36 398.27,53.12 398.74,53.73 399.23,54.15 399.75,54.41 400.29,54.59 400.81,54.73 401.32,54.90 401.78,55.15 402.19,55.46 402.57,55.77 402.92,56.11 403.26,56.50 403.60,56.96 403.95,57.51 404.30,58.34 404.64,59.46 404.98,60.66 405.33,61.70 405.67,62.36 406.03,62.42 406.40,61.72 406.78,60.40 407.17,58.71 407.56,56.87 407.93,55.14 408.29,53.73 408.61,52.59 408.90,51.50 409.18,50.50 409.47,49.65 409.77,48.98 410.11,48.54 410.48,48.33 410.87,48.33 411.28,48.51 411.71,48.85 412.16,49.34 412.63,49.95 413.11,50.76 413.60,51.79 414.12,52.96 414.66,54.20 415.23,55.43 415.84,56.57 416.44,57.64 417.03,58.73 417.65,59.81 418.35,60.85 419.17,61.82 420.18,62.71 421.13,63.50 421.95,64.23 422.90,64.90 424.24,65.50 426.22,66.03 429.12,66.48 433.52,66.85 439.34,67.13 445.82,67.33 452.17,67.49 457.62,67.61 461.40,67.71"/><polyline stroke="#EDB120" points="327.40,67.71 331.18,67.63 336.63,67.53 342.98,67.40 349.46,67.24 355.28,67.03 359.68,66.77 362.58,66.44 364.56,66.05 365.90,65.62 366.85,65.15 367.67,64.65 368.62,64.12 369.62,63.57 370.43,62.98 371.12,62.36 371.73,61.72 372.33,61.04 372.96,60.34 373.64,59.57 374.31,58.72 374.97,57.83 375.60,56.99 376.18,56.23 376.70,55.62 377.12,55.19 377.46,54.89 377.75,54.68 378.04,54.52 378.37,54.37 378.78,54.20 379.27,53.99 379.80,53.77 380.37,53.56 380.98,53.38 381.60,53.28 382.25,53.26 382.93,53.36 383.66,53.57 384.42,53.85 385.17,54.15 385.91,54.44 386.59,54.68 387.23,54.85 387.86,54.99 388.46,55.12 389.03,55.25 389.57,55.41 390.06,55.62 390.51,55.84 390.91,56.04 391.28,56.27 391.62,56.57 391.93,56.97 392.23,57.51 392.50,58.25 392.74,59.15 392.96,60.17 393.16,61.22 393.35,62.24 393.53,63.18 393.70,64.13 393.85,65.17 393.99,66.19 394.13,67.06 394.26,67.67 394.40,67.90 394.54,67.67 394.67,67.06 394.81,66.19 394.95,65.17 395.10,64.13 395.27,63.18 395.45,62.24 395.64,61.22 395.84,60.17 396.06,59.15 396.30,58.25 396.57,57.51 396.87,56.97 397.18,56.57 397.52,56.27 397.89,56.04 398.29,55.84 398.74,55.62 399.23,55.41 399.77,55.25 400.34,55.12 400.94,54.99 401.57,54.85 402.21,54.68 402.89,54.44 403.63,54.15 404.38,53.85 405.14,53.57 405.87,53.36 406.55,53.26 407.20,53.28 407.82,53.38 408.43,53.56 409.00,53.77 409.53,53.99 410.02,54.20 410.43,54.37 410.76,54.52 411.05,54.68 411.34,54.89 411.68,55.19 412.10,55.62 412.62,56.23 413.20,56.99 413.83,57.83 414.49,58.72 415.16,59.57 415.84,60.34 416.47,61.04 417.07,61.72 417.68,62.36 418.37,62.98 419.18,63.57 420.18,64.12 421.13,64.65 421.95,65.15 422.90,65.62 424.24,66.05 426.22,66.44 429.12,66.77 433.52,67.03 439.34,67.24 445.82,67.40 452.17,67.53 457.62,67.63 461.40,67.71"/><polyline stroke="#7E2F8E" points="327.40,67.81 331.18,67.73 336.63,67.62 342.98,67.50 349.46,67.35 355.28,67.17 359.68,66.96 362.58,66.71 364.56,66.44 365.90,66.13 366.85,65.80 367.67,65.45 368.62,65.07 369.62,64.67 370.43,64.24 371.12,63.80 371.73,63.32 372.33,62.80 372.96,62.23 373.63,61.58 374.27,60.84 374.90,60.07 375.51,59.30 376.11,58.59 376.70,57.98 377.27,57.46 377.82,56.96 378.36,56.52 378.89,56.17 379.40,55.92 379.91,55.81 380.39,55.82 380.85,55.94 381.31,56.17 381.75,56.51 382.21,56.95 382.68,57.51 383.18,58.26 383.70,59.20 384.22,60.26 384.74,61.34 385.25,62.34 385.72,63.18 386.17,63.90 386.60,64.59 387.01,65.20 387.40,65.70 387.78,66.05 388.15,66.20 388.50,66.13 388.82,65.86 389.12,65.44 389.42,64.90 389.73,64.29 390.06,63.65 390.41,62.91 390.76,62.04 391.13,61.09 391.50,60.14 391.87,59.24 392.23,58.45 392.59,57.73 392.95,57.00 393.32,56.32 393.68,55.76 394.04,55.38 394.40,55.24 394.76,55.38 395.12,55.76 395.48,56.32 395.85,57.00 396.21,57.73 396.57,58.45 396.93,59.24 397.30,60.14 397.67,61.09 398.04,62.04 398.39,62.91 398.74,63.65 399.07,64.29 399.38,64.90 399.68,65.44 399.98,65.86 400.30,66.13 400.65,66.20 401.02,66.05 401.40,65.70 401.79,65.20 402.20,64.59 402.63,63.90 403.08,63.18 403.55,62.34 404.06,61.34 404.58,60.26 405.10,59.20 405.62,58.26 406.12,57.51 406.59,56.95 407.05,56.51 407.49,56.17 407.95,55.94 408.41,55.82 408.89,55.81 409.40,55.92 409.91,56.17 410.44,56.52 410.98,56.96 411.53,57.46 412.10,57.98 412.69,58.59 413.29,59.30 413.90,60.07 414.53,60.84 415.17,61.58 415.84,62.23 416.47,62.80 417.07,63.32 417.68,63.80 418.37,64.24 419.18,64.67 420.18,65.07 421.13,65.45 421.95,65.80 422.90,66.13 424.24,66.44 426.22,66.71 429.12,66.96 433.52,67.17 439.34,67.35 445.82,67.50 452.17,67.62 457.62,67.73 461.40,67.81"/></g><text transform="translate(342.33,75.90) scale(1,1.12)" font-size="6.6" text-anchor="middle">-600</text><text transform="translate(359.68,75.90) scale(1,1.12)" font-size="6.6" text-anchor="middle">-400</text><text transform="translate(377.04,75.90) scale(1,1.12)" font-size="6.6" text-anchor="middle">-200</text><text transform="translate(394.40,75.90) scale(1,1.12)" font-size="6.6" text-anchor="middle">0</text><text transform="translate(411.76,75.90) scale(1,1.12)" font-size="6.6" text-anchor="middle">200</text><text transform="translate(429.12,75.90) scale(1,1.12)" font-size="6.6" text-anchor="middle">400</text><text transform="translate(446.47,75.90) scale(1,1.12)" font-size="6.6" text-anchor="middle">600</text><text transform="translate(326.25,70.50) scale(1,1.12)" font-size="6.6" text-anchor="end">0</text><text transform="translate(326.25,51.61) scale(1,1.12)" font-size="6.6" text-anchor="end">0.2</text><text transform="translate(326.25,32.72) scale(1,1.12)" font-size="6.6" text-anchor="end">0.4</text><text transform="translate(326.25,13.83) scale(1,1.12)" font-size="6.6" text-anchor="end">0.6</text><text transform="translate(394.40,82.90) scale(1,1.12)" font-size="6.9" text-anchor="middle">Bias amplitude / nT</text><text transform="translate(317.00,35.20) rotate(-90) scale(1,1.12)" font-size="6.800000000000001" text-anchor="middle">Harmonics amplitude / V</text><text x="389.20" y="98.30" font-size="10" text-anchor="middle" class="sub">(c)</text><rect x="430.10" y="1.40" width="29.80" height="30.00" fill="#fff" stroke="#bdbdbd" stroke-width="0.8"/><line x1="430.70" y1="7.00" x2="435.30" y2="7.00" stroke="#0072BD" stroke-width="1.9"/><text transform="translate(435.50,9.10) scale(1,1.12)" font-size="6.2">1st order</text><line x1="430.70" y1="14.00" x2="435.30" y2="14.00" stroke="#D95319" stroke-width="1.9"/><text transform="translate(435.50,16.10) scale(1,1.12)" font-size="6.2">2nd order</text><line x1="430.70" y1="21.00" x2="435.30" y2="21.00" stroke="#EDB120" stroke-width="1.9"/><text transform="translate(435.50,23.10) scale(1,1.12)" font-size="6.2">3rd order</text><line x1="430.70" y1="28.00" x2="435.30" y2="28.00" stroke="#7E2F8E" stroke-width="1.9"/><text transform="translate(435.50,30.10) scale(1,1.12)" font-size="6.2">4th order</text><clipPath id="c30"><rect x="483.40" y="0.50" width="132.90" height="68.60"/></clipPath><line x1="498.33" y1="1.50" x2="498.33" y2="67.90" stroke="#efefef" stroke-width="0.8"/><line x1="515.68" y1="1.50" x2="515.68" y2="67.90" stroke="#efefef" stroke-width="0.8"/><line x1="533.04" y1="1.50" x2="533.04" y2="67.90" stroke="#efefef" stroke-width="0.8"/><line x1="550.40" y1="1.50" x2="550.40" y2="67.90" stroke="#efefef" stroke-width="0.8"/><line x1="567.76" y1="1.50" x2="567.76" y2="67.90" stroke="#efefef" stroke-width="0.8"/><line x1="585.12" y1="1.50" x2="585.12" y2="67.90" stroke="#efefef" stroke-width="0.8"/><line x1="602.47" y1="1.50" x2="602.47" y2="67.90" stroke="#efefef" stroke-width="0.8"/><line x1="483.40" y1="67.90" x2="616.30" y2="67.90" stroke="#efefef" stroke-width="0.8"/><line x1="483.40" y1="49.01" x2="616.30" y2="49.01" stroke="#efefef" stroke-width="0.8"/><line x1="483.40" y1="30.12" x2="616.30" y2="30.12" stroke="#efefef" stroke-width="0.8"/><line x1="483.40" y1="11.23" x2="616.30" y2="11.23" stroke="#efefef" stroke-width="0.8"/><rect x="483.40" y="1.50" width="132.90" height="66.40" fill="none" stroke="#bdbdbd" stroke-width="0.9"/><line x1="498.33" y1="67.90" x2="498.33" y2="66.60" stroke="#bdbdbd" stroke-width="0.8"/><line x1="498.33" y1="1.50" x2="498.33" y2="2.80" stroke="#bdbdbd" stroke-width="0.8"/><line x1="515.68" y1="67.90" x2="515.68" y2="66.60" stroke="#bdbdbd" stroke-width="0.8"/><line x1="515.68" y1="1.50" x2="515.68" y2="2.80" stroke="#bdbdbd" stroke-width="0.8"/><line x1="533.04" y1="67.90" x2="533.04" y2="66.60" stroke="#bdbdbd" stroke-width="0.8"/><line x1="533.04" y1="1.50" x2="533.04" y2="2.80" stroke="#bdbdbd" stroke-width="0.8"/><line x1="550.40" y1="67.90" x2="550.40" y2="66.60" stroke="#bdbdbd" stroke-width="0.8"/><line x1="550.40" y1="1.50" x2="550.40" y2="2.80" stroke="#bdbdbd" stroke-width="0.8"/><line x1="567.76" y1="67.90" x2="567.76" y2="66.60" stroke="#bdbdbd" stroke-width="0.8"/><line x1="567.76" y1="1.50" x2="567.76" y2="2.80" stroke="#bdbdbd" stroke-width="0.8"/><line x1="585.12" y1="67.90" x2="585.12" y2="66.60" stroke="#bdbdbd" stroke-width="0.8"/><line x1="585.12" y1="1.50" x2="585.12" y2="2.80" stroke="#bdbdbd" stroke-width="0.8"/><line x1="602.47" y1="67.90" x2="602.47" y2="66.60" stroke="#bdbdbd" stroke-width="0.8"/><line x1="602.47" y1="1.50" x2="602.47" y2="2.80" stroke="#bdbdbd" stroke-width="0.8"/><line x1="483.40" y1="67.90" x2="484.70" y2="67.90" stroke="#bdbdbd" stroke-width="0.8"/><line x1="616.30" y1="67.90" x2="615.00" y2="67.90" stroke="#bdbdbd" stroke-width="0.8"/><line x1="483.40" y1="49.01" x2="484.70" y2="49.01" stroke="#bdbdbd" stroke-width="0.8"/><line x1="616.30" y1="49.01" x2="615.00" y2="49.01" stroke="#bdbdbd" stroke-width="0.8"/><line x1="483.40" y1="30.12" x2="484.70" y2="30.12" stroke="#bdbdbd" stroke-width="0.8"/><line x1="616.30" y1="30.12" x2="615.00" y2="30.12" stroke="#bdbdbd" stroke-width="0.8"/><line x1="483.40" y1="11.23" x2="484.70" y2="11.23" stroke="#bdbdbd" stroke-width="0.8"/><line x1="616.30" y1="11.23" x2="615.00" y2="11.23" stroke="#bdbdbd" stroke-width="0.8"/><g clip-path="url(#c30)" fill="none" stroke-width="2.0" stroke-linejoin="round" stroke-linecap="round"><polyline stroke="#0072BD" points="483.40,66.67 485.19,66.53 487.73,66.33 490.70,66.10 493.81,65.85 496.74,65.59 499.20,65.35 501.18,65.13 502.94,64.92 504.52,64.71 505.98,64.48 507.37,64.22 508.74,63.93 510.09,63.60 511.37,63.24 512.58,62.86 513.71,62.45 514.75,62.02 515.68,61.57 516.48,61.10 517.14,60.61 517.71,60.10 518.23,59.57 518.76,59.02 519.33,58.45 519.95,57.87 520.59,57.28 521.23,56.67 521.86,56.03 522.47,55.37 523.06,54.68 523.59,54.00 524.07,53.35 524.54,52.67 525.02,51.91 525.56,51.03 526.19,49.95 526.94,48.60 527.79,46.97 528.70,45.22 529.62,43.47 530.50,41.85 531.31,40.51 532.03,39.32 532.69,38.16 533.32,37.13 533.94,36.35 534.57,35.93 535.21,35.98 535.90,36.61 536.61,37.79 537.32,39.32 538.02,41.03 538.68,42.74 539.29,44.29 539.83,45.69 540.31,47.11 540.76,48.54 541.18,49.96 541.62,51.38 542.07,52.79 542.53,54.21 543.00,55.66 543.46,57.11 543.94,58.52 544.42,59.86 544.93,61.10 545.48,62.27 546.07,63.42 546.67,64.49 547.27,65.46 547.82,66.29 548.32,66.96 548.74,67.42 549.11,67.70 549.44,67.85 549.75,67.91 550.07,67.91 550.40,67.90 550.73,67.91 551.05,67.91 551.36,67.85 551.69,67.70 552.06,67.42 552.48,66.96 552.98,66.29 553.53,65.46 554.13,64.49 554.73,63.42 555.32,62.27 555.87,61.10 556.38,59.86 556.86,58.52 557.34,57.11 557.80,55.66 558.27,54.21 558.73,52.79 559.18,51.38 559.62,49.96 560.04,48.54 560.49,47.11 560.97,45.69 561.51,44.29 562.12,42.74 562.78,41.03 563.48,39.32 564.19,37.79 564.90,36.61 565.59,35.98 566.23,35.93 566.86,36.35 567.48,37.13 568.11,38.16 568.77,39.32 569.49,40.51 570.30,41.85 571.18,43.47 572.10,45.22 573.01,46.97 573.86,48.60 574.61,49.95 575.24,51.03 575.78,51.91 576.26,52.67 576.73,53.35 577.21,54.00 577.74,54.68 578.33,55.37 578.94,56.03 579.57,56.67 580.21,57.28 580.85,57.87 581.47,58.45 582.04,59.02 582.57,59.57 583.09,60.10 583.66,60.61 584.32,61.10 585.12,61.57 586.05,62.02 587.09,62.45 588.22,62.86 589.43,63.24 590.71,63.60 592.06,63.93 593.43,64.22 594.82,64.48 596.28,64.71 597.86,64.92 599.62,65.13 601.60,65.35 604.06,65.59 606.99,65.85 610.10,66.10 613.07,66.33 615.61,66.53 617.40,66.67"/><polyline stroke="#D95319" points="483.40,67.52 485.11,67.48 487.47,67.43 490.27,67.37 493.29,67.28 496.34,67.14 499.20,66.96 501.99,66.72 504.93,66.45 507.88,66.14 510.74,65.78 513.38,65.36 515.68,64.88 517.61,64.32 519.24,63.70 520.65,63.02 521.92,62.29 523.13,61.52 524.36,60.72 525.60,59.82 526.77,58.80 527.89,57.73 528.94,56.72 529.94,55.83 530.87,55.15 531.75,54.70 532.56,54.42 533.31,54.27 534.01,54.21 534.64,54.20 535.21,54.20 535.70,54.24 536.11,54.33 536.45,54.47 536.76,54.66 537.06,54.89 537.38,55.15 537.71,55.43 538.03,55.74 538.34,56.09 538.65,56.50 538.97,56.96 539.29,57.51 539.63,58.23 539.99,59.12 540.35,60.08 540.71,60.99 541.05,61.75 541.37,62.23 541.67,62.41 541.94,62.37 542.19,62.17 542.45,61.88 542.72,61.57 543.02,61.29 543.35,61.03 543.71,60.73 544.08,60.40 544.45,60.06 544.83,59.73 545.19,59.40 545.56,59.12 545.95,58.87 546.33,58.63 546.70,58.35 547.05,57.99 547.36,57.51 547.63,56.92 547.88,56.25 548.09,55.50 548.29,54.68 548.48,53.77 548.66,52.79 548.83,51.68 548.99,50.43 549.13,49.10 549.26,47.76 549.39,46.45 549.53,45.23 549.68,43.97 549.82,42.59 549.97,41.25 550.11,40.10 550.26,39.30 550.40,39.00 550.54,39.30 550.69,40.10 550.83,41.25 550.98,42.59 551.12,43.97 551.27,45.23 551.41,46.45 551.54,47.76 551.67,49.10 551.81,50.43 551.97,51.68 552.14,52.79 552.32,53.77 552.51,54.68 552.71,55.50 552.92,56.25 553.17,56.92 553.44,57.51 553.75,57.99 554.10,58.35 554.47,58.63 554.85,58.87 555.24,59.12 555.61,59.40 555.97,59.73 556.35,60.06 556.72,60.40 557.09,60.73 557.45,61.03 557.78,61.29 558.08,61.57 558.35,61.88 558.61,62.17 558.86,62.37 559.13,62.41 559.43,62.23 559.75,61.75 560.09,60.99 560.45,60.08 560.81,59.12 561.17,58.23 561.51,57.51 561.83,56.96 562.15,56.50 562.46,56.09 562.77,55.74 563.09,55.43 563.42,55.15 563.74,54.89 564.04,54.66 564.35,54.47 564.69,54.33 565.10,54.24 565.59,54.20 566.16,54.20 566.79,54.21 567.49,54.27 568.24,54.42 569.05,54.70 569.93,55.15 570.86,55.83 571.86,56.72 572.91,57.73 574.03,58.80 575.20,59.82 576.44,60.72 577.67,61.52 578.88,62.29 580.15,63.02 581.56,63.70 583.19,64.32 585.12,64.88 587.42,65.36 590.06,65.78 592.92,66.14 595.87,66.45 598.81,66.72 601.60,66.96 604.46,67.14 607.51,67.28 610.53,67.37 613.33,67.43 615.69,67.48 617.40,67.52"/><polyline stroke="#EDB120" points="483.40,67.71 487.19,67.62 492.64,67.50 499.00,67.36 505.48,67.19 511.30,66.99 515.68,66.77 518.56,66.52 520.52,66.23 521.83,65.93 522.73,65.60 523.49,65.25 524.36,64.88 525.25,64.49 525.92,64.08 526.45,63.64 526.90,63.19 527.34,62.72 527.84,62.23 528.35,61.69 528.82,61.07 529.27,60.44 529.75,59.84 530.27,59.32 530.87,58.93 531.58,58.68 532.38,58.56 533.23,58.51 534.09,58.51 534.91,58.50 535.65,58.45 536.29,58.38 536.87,58.30 537.41,58.22 537.94,58.14 538.50,58.06 539.12,57.98 539.79,57.89 540.50,57.77 541.23,57.66 541.98,57.56 542.72,57.51 543.46,57.51 544.21,57.54 545.01,57.58 545.80,57.66 546.56,57.81 547.23,58.06 547.80,58.45 548.22,59.02 548.54,59.75 548.78,60.58 548.98,61.46 549.16,62.35 549.36,63.18 549.56,64.07 549.74,65.10 549.91,66.13 550.07,67.03 550.23,67.66 550.40,67.90 550.57,67.66 550.73,67.03 550.89,66.13 551.06,65.10 551.24,64.07 551.44,63.18 551.64,62.35 551.82,61.46 552.02,60.58 552.26,59.75 552.58,59.02 553.00,58.45 553.57,58.06 554.24,57.81 555.00,57.66 555.79,57.58 556.59,57.54 557.34,57.51 558.08,57.51 558.82,57.56 559.57,57.66 560.30,57.77 561.01,57.89 561.68,57.98 562.30,58.06 562.86,58.14 563.39,58.22 563.93,58.30 564.51,58.38 565.15,58.45 565.89,58.50 566.71,58.51 567.57,58.51 568.42,58.56 569.22,58.68 569.93,58.93 570.53,59.32 571.05,59.84 571.53,60.44 571.98,61.07 572.45,61.69 572.96,62.23 573.46,62.72 573.90,63.19 574.35,63.64 574.88,64.08 575.55,64.49 576.44,64.88 577.31,65.25 578.07,65.60 578.97,65.93 580.28,66.23 582.24,66.52 585.12,66.77 589.50,66.99 595.32,67.19 601.80,67.36 608.16,67.50 613.61,67.62 617.40,67.71"/><polyline stroke="#7E2F8E" points="483.40,67.71 487.19,67.63 492.64,67.52 499.00,67.38 505.48,67.24 511.30,67.09 515.68,66.96 518.56,66.83 520.54,66.72 521.85,66.60 522.76,66.48 523.52,66.35 524.36,66.20 525.20,66.06 525.81,65.95 526.26,65.82 526.63,65.65 526.99,65.41 527.40,65.07 527.86,64.59 528.30,63.99 528.74,63.32 529.16,62.62 529.58,61.93 530.00,61.29 530.42,60.57 530.82,59.73 531.21,58.89 531.62,58.20 532.05,57.79 532.52,57.79 533.02,58.47 533.53,59.75 534.07,61.31 534.64,62.83 535.25,63.97 535.91,64.41 536.63,63.87 537.41,62.57 538.24,60.90 539.08,59.24 539.90,57.98 540.68,57.51 541.43,58.10 542.17,59.48 542.90,61.27 543.60,63.06 544.28,64.46 544.93,65.07 545.55,64.80 546.14,63.95 546.71,62.71 547.25,61.25 547.76,59.78 548.23,58.45 548.66,57.08 549.04,55.45 549.39,53.79 549.72,52.33 550.05,51.29 550.40,50.90 550.75,51.29 551.08,52.33 551.41,53.79 551.76,55.45 552.14,57.08 552.57,58.45 553.04,59.78 553.55,61.25 554.09,62.71 554.66,63.95 555.25,64.80 555.87,65.07 556.52,64.46 557.20,63.06 557.90,61.27 558.63,59.48 559.37,58.10 560.12,57.51 560.90,57.98 561.72,59.24 562.56,60.90 563.39,62.57 564.17,63.87 564.89,64.41 565.55,63.97 566.16,62.83 566.73,61.31 567.27,59.75 567.78,58.47 568.28,57.79 568.75,57.79 569.18,58.20 569.59,58.89 569.98,59.73 570.38,60.57 570.80,61.29 571.22,61.93 571.64,62.62 572.06,63.32 572.50,63.99 572.94,64.59 573.40,65.07 573.81,65.41 574.17,65.65 574.54,65.82 574.99,65.95 575.60,66.06 576.44,66.20 577.28,66.35 578.04,66.48 578.95,66.60 580.26,66.72 582.24,66.83 585.12,66.96 589.50,67.09 595.32,67.24 601.80,67.38 608.16,67.52 613.61,67.63 617.40,67.71"/></g><text transform="translate(498.33,75.90) scale(1,1.12)" font-size="6.6" text-anchor="middle">-600</text><text transform="translate(515.68,75.90) scale(1,1.12)" font-size="6.6" text-anchor="middle">-400</text><text transform="translate(533.04,75.90) scale(1,1.12)" font-size="6.6" text-anchor="middle">-200</text><text transform="translate(550.40,75.90) scale(1,1.12)" font-size="6.6" text-anchor="middle">0</text><text transform="translate(567.76,75.90) scale(1,1.12)" font-size="6.6" text-anchor="middle">200</text><text transform="translate(585.12,75.90) scale(1,1.12)" font-size="6.6" text-anchor="middle">400</text><text transform="translate(602.47,75.90) scale(1,1.12)" font-size="6.6" text-anchor="middle">600</text><text transform="translate(482.25,70.50) scale(1,1.12)" font-size="6.6" text-anchor="end">0</text><text transform="translate(482.25,51.61) scale(1,1.12)" font-size="6.6" text-anchor="end">0.2</text><text transform="translate(482.25,32.72) scale(1,1.12)" font-size="6.6" text-anchor="end">0.4</text><text transform="translate(482.25,13.83) scale(1,1.12)" font-size="6.6" text-anchor="end">0.6</text><text transform="translate(550.40,82.90) scale(1,1.12)" font-size="6.9" text-anchor="middle">Bias amplitude</text><text transform="translate(473.00,35.20) rotate(-90) scale(1,1.12)" font-size="6.800000000000001" text-anchor="middle">Harmonics amplitude</text><text x="545.20" y="98.30" font-size="10" text-anchor="middle" class="sub">(d)</text><rect x="585.00" y="1.40" width="29.80" height="30.00" fill="#fff" stroke="#bdbdbd" stroke-width="0.8"/><line x1="585.60" y1="7.00" x2="590.20" y2="7.00" stroke="#0072BD" stroke-width="1.9"/><text transform="translate(590.40,9.10) scale(1,1.12)" font-size="6.2">1st order</text><line x1="585.60" y1="14.00" x2="590.20" y2="14.00" stroke="#D95319" stroke-width="1.9"/><text transform="translate(590.40,16.10) scale(1,1.12)" font-size="6.2">2nd order</text><line x1="585.60" y1="21.00" x2="590.20" y2="21.00" stroke="#EDB120" stroke-width="1.9"/><text transform="translate(590.40,23.10) scale(1,1.12)" font-size="6.2">3rd order</text><line x1="585.60" y1="28.00" x2="590.20" y2="28.00" stroke="#7E2F8E" stroke-width="1.9"/><text transform="translate(590.40,30.10) scale(1,1.12)" font-size="6.2">4th order</text><clipPath id="c01"><rect x="15.40" y="113.40" width="134.00" height="68.60"/></clipPath><line x1="30.33" y1="114.40" x2="30.33" y2="180.80" stroke="#efefef" stroke-width="0.8"/><line x1="47.68" y1="114.40" x2="47.68" y2="180.80" stroke="#efefef" stroke-width="0.8"/><line x1="65.04" y1="114.40" x2="65.04" y2="180.80" stroke="#efefef" stroke-width="0.8"/><line x1="82.40" y1="114.40" x2="82.40" y2="180.80" stroke="#efefef" stroke-width="0.8"/><line x1="99.76" y1="114.40" x2="99.76" y2="180.80" stroke="#efefef" stroke-width="0.8"/><line x1="117.12" y1="114.40" x2="117.12" y2="180.80" stroke="#efefef" stroke-width="0.8"/><line x1="134.47" y1="114.40" x2="134.47" y2="180.80" stroke="#efefef" stroke-width="0.8"/><line x1="15.40" y1="180.80" x2="149.40" y2="180.80" stroke="#efefef" stroke-width="0.8"/><line x1="15.40" y1="161.91" x2="149.40" y2="161.91" stroke="#efefef" stroke-width="0.8"/><line x1="15.40" y1="143.02" x2="149.40" y2="143.02" stroke="#efefef" stroke-width="0.8"/><line x1="15.40" y1="124.13" x2="149.40" y2="124.13" stroke="#efefef" stroke-width="0.8"/><rect x="15.40" y="114.40" width="134.00" height="66.40" fill="none" stroke="#bdbdbd" stroke-width="0.9"/><line x1="30.33" y1="180.80" x2="30.33" y2="179.50" stroke="#bdbdbd" stroke-width="0.8"/><line x1="30.33" y1="114.40" x2="30.33" y2="115.70" stroke="#bdbdbd" stroke-width="0.8"/><line x1="47.68" y1="180.80" x2="47.68" y2="179.50" stroke="#bdbdbd" stroke-width="0.8"/><line x1="47.68" y1="114.40" x2="47.68" y2="115.70" stroke="#bdbdbd" stroke-width="0.8"/><line x1="65.04" y1="180.80" x2="65.04" y2="179.50" stroke="#bdbdbd" stroke-width="0.8"/><line x1="65.04" y1="114.40" x2="65.04" y2="115.70" stroke="#bdbdbd" stroke-width="0.8"/><line x1="82.40" y1="180.80" x2="82.40" y2="179.50" stroke="#bdbdbd" stroke-width="0.8"/><line x1="82.40" y1="114.40" x2="82.40" y2="115.70" stroke="#bdbdbd" stroke-width="0.8"/><line x1="99.76" y1="180.80" x2="99.76" y2="179.50" stroke="#bdbdbd" stroke-width="0.8"/><line x1="99.76" y1="114.40" x2="99.76" y2="115.70" stroke="#bdbdbd" stroke-width="0.8"/><line x1="117.12" y1="180.80" x2="117.12" y2="179.50" stroke="#bdbdbd" stroke-width="0.8"/><line x1="117.12" y1="114.40" x2="117.12" y2="115.70" stroke="#bdbdbd" stroke-width="0.8"/><line x1="134.47" y1="180.80" x2="134.47" y2="179.50" stroke="#bdbdbd" stroke-width="0.8"/><line x1="134.47" y1="114.40" x2="134.47" y2="115.70" stroke="#bdbdbd" stroke-width="0.8"/><line x1="15.40" y1="180.80" x2="16.70" y2="180.80" stroke="#bdbdbd" stroke-width="0.8"/><line x1="149.40" y1="180.80" x2="148.10" y2="180.80" stroke="#bdbdbd" stroke-width="0.8"/><line x1="15.40" y1="161.91" x2="16.70" y2="161.91" stroke="#bdbdbd" stroke-width="0.8"/><line x1="149.40" y1="161.91" x2="148.10" y2="161.91" stroke="#bdbdbd" stroke-width="0.8"/><line x1="15.40" y1="143.02" x2="16.70" y2="143.02" stroke="#bdbdbd" stroke-width="0.8"/><line x1="149.40" y1="143.02" x2="148.10" y2="143.02" stroke="#bdbdbd" stroke-width="0.8"/><line x1="15.40" y1="124.13" x2="16.70" y2="124.13" stroke="#bdbdbd" stroke-width="0.8"/><line x1="149.40" y1="124.13" x2="148.10" y2="124.13" stroke="#bdbdbd" stroke-width="0.8"/><g clip-path="url(#c01)" fill="none" stroke-width="2.0" stroke-linejoin="round" stroke-linecap="round"><polyline stroke="#0072BD" points="15.40,180.14 17.02,180.11 19.24,180.08 21.89,180.04 24.75,179.99 27.63,179.93 30.33,179.86 32.97,179.77 35.74,179.68 38.53,179.58 41.24,179.47 43.74,179.34 45.95,179.19 47.83,179.05 49.48,178.90 50.92,178.75 52.22,178.55 53.41,178.30 54.54,177.97 55.59,177.52 56.51,176.98 57.32,176.38 58.05,175.77 58.71,175.18 59.31,174.66 59.83,174.20 60.24,173.75 60.58,173.33 60.89,172.95 61.20,172.60 61.57,172.30 61.94,172.04 62.28,171.83 62.63,171.65 63.04,171.51 63.54,171.41 64.17,171.35 64.99,171.39 65.96,171.54 67.02,171.73 68.13,171.88 69.22,171.94 70.25,171.83 71.25,171.55 72.28,171.16 73.29,170.66 74.26,170.08 75.14,169.43 75.89,168.71 76.51,167.90 77.02,166.99 77.44,166.00 77.79,164.96 78.11,163.91 78.41,162.85 78.67,161.80 78.87,160.71 79.03,159.60 79.16,158.47 79.30,157.35 79.45,156.24 79.62,155.14 79.79,154.04 79.95,152.94 80.11,151.83 80.27,150.73 80.40,149.63 80.53,148.47 80.64,147.25 80.73,146.03 80.83,144.87 80.92,143.85 81.01,143.02 81.11,142.35 81.20,141.79 81.29,141.37 81.37,141.10 81.46,141.01 81.53,141.13 81.60,141.40 81.66,141.79 81.72,142.37 81.78,143.19 81.83,144.33 81.88,145.85 81.93,147.89 81.97,150.44 82.01,153.29 82.06,156.28 82.10,159.21 82.14,161.91 82.18,164.71 82.23,167.82 82.27,170.88 82.31,173.52 82.36,175.38 82.40,176.08 82.44,175.38 82.49,173.52 82.53,170.88 82.57,167.82 82.62,164.71 82.66,161.91 82.70,159.21 82.74,156.28 82.79,153.29 82.83,150.44 82.87,147.89 82.92,145.85 82.97,144.33 83.02,143.19 83.08,142.37 83.14,141.79 83.20,141.40 83.27,141.13 83.34,141.01 83.43,141.10 83.51,141.37 83.60,141.79 83.69,142.35 83.79,143.02 83.88,143.85 83.97,144.87 84.07,146.03 84.16,147.25 84.27,148.47 84.40,149.63 84.53,150.73 84.69,151.83 84.85,152.94 85.01,154.04 85.18,155.14 85.35,156.24 85.50,157.35 85.64,158.47 85.77,159.60 85.93,160.71 86.13,161.80 86.39,162.85 86.69,163.91 87.01,164.96 87.36,166.00 87.78,166.99 88.29,167.90 88.91,168.71 89.66,169.43 90.54,170.08 91.51,170.66 92.52,171.16 93.55,171.55 94.55,171.83 95.58,171.94 96.67,171.88 97.78,171.73 98.84,171.54 99.81,171.39 100.63,171.35 101.26,171.41 101.76,171.51 102.17,171.65 102.52,171.83 102.86,172.04 103.23,172.30 103.60,172.60 103.91,172.95 104.22,173.33 104.56,173.75 104.97,174.20 105.49,174.66 106.09,175.18 106.75,175.77 107.48,176.38 108.29,176.98 109.21,177.52 110.26,177.97 111.39,178.30 112.58,178.55 113.88,178.75 115.32,178.90 116.97,179.05 118.85,179.19 121.06,179.34 123.56,179.47 126.27,179.58 129.06,179.68 131.83,179.77 134.47,179.86 137.17,179.93 140.05,179.99 142.91,180.04 145.56,180.08 147.78,180.11 149.40,180.14"/><polyline stroke="#D95319" points="15.40,180.52 18.63,180.47 23.27,180.41 28.67,180.33 34.24,180.25 39.33,180.15 43.35,180.04 46.22,179.92 48.44,179.78 50.20,179.63 51.67,179.48 53.06,179.33 54.54,179.19 56.06,179.05 57.45,178.90 58.76,178.75 60.00,178.63 61.22,178.55 62.44,178.53 63.66,178.61 64.84,178.76 65.99,178.96 67.13,179.17 68.26,179.36 69.38,179.48 70.54,179.54 71.74,179.59 72.93,179.60 74.06,179.59 75.09,179.55 75.98,179.48 76.70,179.37 77.30,179.22 77.79,179.05 78.21,178.85 78.58,178.65 78.93,178.44 79.24,178.23 79.47,178.01 79.67,177.78 79.83,177.54 79.98,177.29 80.14,177.02 80.31,176.76 80.47,176.50 80.62,176.22 80.76,175.92 80.89,175.56 81.01,175.13 81.12,174.65 81.21,174.12 81.29,173.54 81.37,172.89 81.45,172.17 81.53,171.35 81.62,170.41 81.71,169.35 81.80,168.20 81.89,167.02 81.98,165.86 82.05,164.74 82.12,163.54 82.18,162.18 82.24,160.82 82.29,159.65 82.34,158.82 82.40,158.51 82.46,158.82 82.51,159.65 82.56,160.82 82.62,162.18 82.68,163.54 82.75,164.74 82.82,165.86 82.91,167.02 83.00,168.20 83.09,169.35 83.18,170.41 83.27,171.35 83.35,172.17 83.43,172.89 83.51,173.54 83.59,174.12 83.68,174.65 83.79,175.13 83.91,175.56 84.04,175.92 84.18,176.22 84.33,176.50 84.49,176.76 84.66,177.02 84.82,177.29 84.97,177.54 85.13,177.78 85.33,178.01 85.56,178.23 85.87,178.44 86.22,178.65 86.59,178.85 87.01,179.05 87.50,179.22 88.10,179.37 88.82,179.48 89.71,179.55 90.74,179.59 91.87,179.60 93.06,179.59 94.26,179.54 95.42,179.48 96.54,179.36 97.67,179.17 98.81,178.96 99.96,178.76 101.14,178.61 102.36,178.53 103.58,178.55 104.80,178.63 106.04,178.75 107.35,178.90 108.74,179.05 110.26,179.19 111.74,179.33 113.13,179.48 114.60,179.63 116.36,179.78 118.58,179.92 121.45,180.04 125.47,180.15 130.56,180.25 136.13,180.33 141.53,180.41 146.17,180.47 149.40,180.52"/></g><text transform="translate(30.33,188.80) scale(1,1.12)" font-size="6.6" text-anchor="middle">-600</text><text transform="translate(47.68,188.80) scale(1,1.12)" font-size="6.6" text-anchor="middle">-400</text><text transform="translate(65.04,188.80) scale(1,1.12)" font-size="6.6" text-anchor="middle">-200</text><text transform="translate(82.40,188.80) scale(1,1.12)" font-size="6.6" text-anchor="middle">0</text><text transform="translate(99.76,188.80) scale(1,1.12)" font-size="6.6" text-anchor="middle">200</text><text transform="translate(117.12,188.80) scale(1,1.12)" font-size="6.6" text-anchor="middle">400</text><text transform="translate(134.47,188.80) scale(1,1.12)" font-size="6.6" text-anchor="middle">600</text><text transform="translate(14.25,183.40) scale(1,1.12)" font-size="6.6" text-anchor="end">0</text><text transform="translate(14.25,164.51) scale(1,1.12)" font-size="6.6" text-anchor="end">0.2</text><text transform="translate(14.25,145.62) scale(1,1.12)" font-size="6.6" text-anchor="end">0.4</text><text transform="translate(14.25,126.73) scale(1,1.12)" font-size="6.6" text-anchor="end">0.6</text><text transform="translate(82.40,195.80) scale(1,1.12)" font-size="6.9" text-anchor="middle">Bias amplitude / nT</text><text transform="translate(5.00,148.10) rotate(-90) scale(1,1.12)" font-size="6.800000000000001" text-anchor="middle">Harmonics amplitude / V</text><text x="77.20" y="211.20" font-size="10" text-anchor="middle" class="sub">(e)</text><rect x="118.10" y="114.30" width="29.80" height="16.00" fill="#fff" stroke="#bdbdbd" stroke-width="0.8"/><line x1="118.70" y1="119.90" x2="123.30" y2="119.90" stroke="#0072BD" stroke-width="1.9"/><text transform="translate(123.50,122.00) scale(1,1.12)" font-size="6.2">1st order</text><line x1="118.70" y1="126.90" x2="123.30" y2="126.90" stroke="#D95319" stroke-width="1.9"/><text transform="translate(123.50,129.00) scale(1,1.12)" font-size="6.2">2nd order</text><clipPath id="c11"><rect x="171.40" y="113.40" width="134.00" height="68.60"/></clipPath><line x1="186.33" y1="114.40" x2="186.33" y2="180.80" stroke="#efefef" stroke-width="0.8"/><line x1="203.68" y1="114.40" x2="203.68" y2="180.80" stroke="#efefef" stroke-width="0.8"/><line x1="221.04" y1="114.40" x2="221.04" y2="180.80" stroke="#efefef" stroke-width="0.8"/><line x1="238.40" y1="114.40" x2="238.40" y2="180.80" stroke="#efefef" stroke-width="0.8"/><line x1="255.76" y1="114.40" x2="255.76" y2="180.80" stroke="#efefef" stroke-width="0.8"/><line x1="273.12" y1="114.40" x2="273.12" y2="180.80" stroke="#efefef" stroke-width="0.8"/><line x1="290.47" y1="114.40" x2="290.47" y2="180.80" stroke="#efefef" stroke-width="0.8"/><line x1="171.40" y1="180.80" x2="305.40" y2="180.80" stroke="#efefef" stroke-width="0.8"/><line x1="171.40" y1="161.91" x2="305.40" y2="161.91" stroke="#efefef" stroke-width="0.8"/><line x1="171.40" y1="143.02" x2="305.40" y2="143.02" stroke="#efefef" stroke-width="0.8"/><line x1="171.40" y1="124.13" x2="305.40" y2="124.13" stroke="#efefef" stroke-width="0.8"/><rect x="171.40" y="114.40" width="134.00" height="66.40" fill="none" stroke="#bdbdbd" stroke-width="0.9"/><line x1="186.33" y1="180.80" x2="186.33" y2="179.50" stroke="#bdbdbd" stroke-width="0.8"/><line x1="186.33" y1="114.40" x2="186.33" y2="115.70" stroke="#bdbdbd" stroke-width="0.8"/><line x1="203.68" y1="180.80" x2="203.68" y2="179.50" stroke="#bdbdbd" stroke-width="0.8"/><line x1="203.68" y1="114.40" x2="203.68" y2="115.70" stroke="#bdbdbd" stroke-width="0.8"/><line x1="221.04" y1="180.80" x2="221.04" y2="179.50" stroke="#bdbdbd" stroke-width="0.8"/><line x1="221.04" y1="114.40" x2="221.04" y2="115.70" stroke="#bdbdbd" stroke-width="0.8"/><line x1="238.40" y1="180.80" x2="238.40" y2="179.50" stroke="#bdbdbd" stroke-width="0.8"/><line x1="238.40" y1="114.40" x2="238.40" y2="115.70" stroke="#bdbdbd" stroke-width="0.8"/><line x1="255.76" y1="180.80" x2="255.76" y2="179.50" stroke="#bdbdbd" stroke-width="0.8"/><line x1="255.76" y1="114.40" x2="255.76" y2="115.70" stroke="#bdbdbd" stroke-width="0.8"/><line x1="273.12" y1="180.80" x2="273.12" y2="179.50" stroke="#bdbdbd" stroke-width="0.8"/><line x1="273.12" y1="114.40" x2="273.12" y2="115.70" stroke="#bdbdbd" stroke-width="0.8"/><line x1="290.47" y1="180.80" x2="290.47" y2="179.50" stroke="#bdbdbd" stroke-width="0.8"/><line x1="290.47" y1="114.40" x2="290.47" y2="115.70" stroke="#bdbdbd" stroke-width="0.8"/><line x1="171.40" y1="180.80" x2="172.70" y2="180.80" stroke="#bdbdbd" stroke-width="0.8"/><line x1="305.40" y1="180.80" x2="304.10" y2="180.80" stroke="#bdbdbd" stroke-width="0.8"/><line x1="171.40" y1="161.91" x2="172.70" y2="161.91" stroke="#bdbdbd" stroke-width="0.8"/><line x1="305.40" y1="161.91" x2="304.10" y2="161.91" stroke="#bdbdbd" stroke-width="0.8"/><line x1="171.40" y1="143.02" x2="172.70" y2="143.02" stroke="#bdbdbd" stroke-width="0.8"/><line x1="305.40" y1="143.02" x2="304.10" y2="143.02" stroke="#bdbdbd" stroke-width="0.8"/><line x1="171.40" y1="124.13" x2="172.70" y2="124.13" stroke="#bdbdbd" stroke-width="0.8"/><line x1="305.40" y1="124.13" x2="304.10" y2="124.13" stroke="#bdbdbd" stroke-width="0.8"/><g clip-path="url(#c11)" fill="none" stroke-width="2.0" stroke-linejoin="round" stroke-linecap="round"><polyline stroke="#0072BD" points="171.40,180.14 173.02,180.11 175.24,180.08 177.89,180.04 180.75,179.99 183.63,179.93 186.33,179.86 188.97,179.78 191.74,179.69 194.53,179.60 197.24,179.48 199.74,179.35 201.95,179.19 203.84,179.02 205.50,178.84 206.97,178.64 208.28,178.40 209.46,178.12 210.54,177.78 211.49,177.35 212.28,176.85 212.94,176.31 213.51,175.74 214.03,175.18 214.53,174.66 215.00,174.16 215.38,173.64 215.71,173.14 216.02,172.66 216.34,172.21 216.70,171.83 217.11,171.48 217.52,171.16 217.95,170.88 218.39,170.66 218.84,170.49 219.31,170.41 219.79,170.43 220.28,170.54 220.79,170.72 221.30,170.93 221.82,171.15 222.34,171.35 222.87,171.57 223.40,171.82 223.93,172.07 224.47,172.31 225.01,172.49 225.56,172.58 226.10,172.60 226.66,172.57 227.22,172.48 227.78,172.33 228.32,172.11 228.85,171.83 229.37,171.48 229.88,171.06 230.38,170.59 230.87,170.04 231.35,169.42 231.80,168.71 232.25,167.90 232.70,166.99 233.13,166.00 233.54,164.96 233.91,163.91 234.23,162.85 234.50,161.78 234.71,160.67 234.89,159.54 235.04,158.40 235.19,157.30 235.36,156.24 235.55,155.23 235.73,154.25 235.92,153.29 236.09,152.36 236.26,151.45 236.40,150.58 236.53,149.70 236.64,148.83 236.74,147.98 236.83,147.18 236.92,146.46 237.01,145.85 237.11,145.32 237.20,144.84 237.29,144.44 237.37,144.14 237.46,143.97 237.53,143.96 237.60,144.02 237.66,144.10 237.72,144.32 237.78,144.77 237.83,145.56 237.88,146.80 237.93,148.62 237.97,150.96 238.01,153.64 238.06,156.49 238.10,159.30 238.14,161.91 238.18,164.65 238.23,167.75 238.27,170.82 238.31,173.49 238.36,175.37 238.40,176.08 238.44,175.37 238.49,173.49 238.53,170.82 238.57,167.75 238.62,164.65 238.66,161.91 238.70,159.30 238.74,156.49 238.79,153.64 238.83,150.96 238.87,148.62 238.92,146.80 238.97,145.56 239.02,144.77 239.08,144.32 239.14,144.10 239.20,144.02 239.27,143.96 239.34,143.97 239.43,144.14 239.51,144.44 239.60,144.84 239.69,145.32 239.79,145.85 239.88,146.46 239.97,147.18 240.06,147.98 240.16,148.83 240.27,149.70 240.40,150.58 240.54,151.45 240.71,152.36 240.88,153.29 241.07,154.25 241.25,155.23 241.44,156.24 241.61,157.30 241.76,158.40 241.91,159.54 242.09,160.67 242.30,161.78 242.57,162.85 242.89,163.91 243.26,164.96 243.67,166.00 244.10,166.99 244.55,167.90 245.00,168.71 245.45,169.42 245.93,170.04 246.42,170.59 246.92,171.06 247.43,171.48 247.95,171.83 248.48,172.11 249.02,172.33 249.58,172.48 250.14,172.57 250.70,172.60 251.24,172.58 251.79,172.49 252.33,172.31 252.87,172.07 253.40,171.82 253.93,171.57 254.46,171.35 254.98,171.15 255.50,170.93 256.01,170.72 256.52,170.54 257.01,170.43 257.49,170.41 257.96,170.49 258.41,170.66 258.85,170.88 259.28,171.16 259.69,171.48 260.10,171.83 260.46,172.21 260.78,172.66 261.09,173.14 261.42,173.64 261.80,174.16 262.27,174.66 262.77,175.18 263.29,175.74 263.86,176.31 264.52,176.85 265.31,177.35 266.26,177.78 267.34,178.12 268.52,178.40 269.83,178.64 271.30,178.84 272.96,179.02 274.85,179.19 277.06,179.35 279.56,179.48 282.27,179.60 285.06,179.69 287.83,179.78 290.47,179.86 293.17,179.93 296.05,179.99 298.91,180.04 301.56,180.08 303.78,180.11 305.40,180.14"/><polyline stroke="#D95319" points="171.40,180.52 174.63,180.47 179.27,180.41 184.67,180.33 190.24,180.25 195.33,180.15 199.35,180.04 202.22,179.92 204.44,179.78 206.20,179.63 207.67,179.48 209.06,179.33 210.54,179.19 212.06,179.05 213.45,178.90 214.76,178.75 216.00,178.63 217.22,178.55 218.44,178.53 219.66,178.61 220.84,178.76 221.99,178.96 223.13,179.17 224.26,179.36 225.38,179.48 226.54,179.54 227.74,179.59 228.93,179.60 230.06,179.59 231.09,179.55 231.98,179.48 232.70,179.37 233.30,179.22 233.79,179.05 234.21,178.85 234.58,178.65 234.93,178.44 235.24,178.23 235.47,178.01 235.67,177.78 235.83,177.54 235.98,177.29 236.14,177.02 236.31,176.76 236.47,176.50 236.62,176.22 236.76,175.92 236.89,175.56 237.01,175.13 237.12,174.65 237.21,174.12 237.29,173.54 237.37,172.89 237.45,172.17 237.53,171.35 237.62,170.41 237.71,169.35 237.80,168.20 237.89,167.02 237.98,165.86 238.05,164.74 238.12,163.54 238.18,162.18 238.24,160.82 238.29,159.65 238.34,158.82 238.40,158.51 238.46,158.82 238.51,159.65 238.56,160.82 238.62,162.18 238.68,163.54 238.75,164.74 238.82,165.86 238.91,167.02 239.00,168.20 239.09,169.35 239.18,170.41 239.27,171.35 239.35,172.17 239.43,172.89 239.51,173.54 239.59,174.12 239.68,174.65 239.79,175.13 239.91,175.56 240.04,175.92 240.18,176.22 240.33,176.50 240.49,176.76 240.66,177.02 240.82,177.29 240.97,177.54 241.13,177.78 241.33,178.01 241.56,178.23 241.87,178.44 242.22,178.65 242.59,178.85 243.01,179.05 243.50,179.22 244.10,179.37 244.82,179.48 245.71,179.55 246.74,179.59 247.87,179.60 249.06,179.59 250.26,179.54 251.42,179.48 252.54,179.36 253.67,179.17 254.81,178.96 255.96,178.76 257.14,178.61 258.36,178.53 259.58,178.55 260.80,178.63 262.04,178.75 263.35,178.90 264.74,179.05 266.26,179.19 267.74,179.33 269.13,179.48 270.60,179.63 272.36,179.78 274.58,179.92 277.45,180.04 281.47,180.15 286.56,180.25 292.13,180.33 297.53,180.41 302.17,180.47 305.40,180.52"/></g><text transform="translate(186.33,188.80) scale(1,1.12)" font-size="6.6" text-anchor="middle">-600</text><text transform="translate(203.68,188.80) scale(1,1.12)" font-size="6.6" text-anchor="middle">-400</text><text transform="translate(221.04,188.80) scale(1,1.12)" font-size="6.6" text-anchor="middle">-200</text><text transform="translate(238.40,188.80) scale(1,1.12)" font-size="6.6" text-anchor="middle">0</text><text transform="translate(255.76,188.80) scale(1,1.12)" font-size="6.6" text-anchor="middle">200</text><text transform="translate(273.12,188.80) scale(1,1.12)" font-size="6.6" text-anchor="middle">400</text><text transform="translate(290.47,188.80) scale(1,1.12)" font-size="6.6" text-anchor="middle">600</text><text transform="translate(170.25,183.40) scale(1,1.12)" font-size="6.6" text-anchor="end">0</text><text transform="translate(170.25,164.51) scale(1,1.12)" font-size="6.6" text-anchor="end">0.2</text><text transform="translate(170.25,145.62) scale(1,1.12)" font-size="6.6" text-anchor="end">0.4</text><text transform="translate(170.25,126.73) scale(1,1.12)" font-size="6.6" text-anchor="end">0.6</text><text transform="translate(238.40,195.80) scale(1,1.12)" font-size="6.9" text-anchor="middle">Bias amplitude</text><text transform="translate(161.00,148.10) rotate(-90) scale(1,1.12)" font-size="6.800000000000001" text-anchor="middle">Harmonics amplitude</text><text x="233.20" y="211.20" font-size="10" text-anchor="middle" class="sub">(f)</text><rect x="274.10" y="114.30" width="29.80" height="16.00" fill="#fff" stroke="#bdbdbd" stroke-width="0.8"/><line x1="274.70" y1="119.90" x2="279.30" y2="119.90" stroke="#0072BD" stroke-width="1.9"/><text transform="translate(279.50,122.00) scale(1,1.12)" font-size="6.2">1st order</text><line x1="274.70" y1="126.90" x2="279.30" y2="126.90" stroke="#D95319" stroke-width="1.9"/><text transform="translate(279.50,129.00) scale(1,1.12)" font-size="6.2">2nd order</text><clipPath id="c21"><rect x="327.40" y="113.40" width="134.00" height="68.60"/></clipPath><line x1="342.33" y1="114.40" x2="342.33" y2="180.80" stroke="#efefef" stroke-width="0.8"/><line x1="359.68" y1="114.40" x2="359.68" y2="180.80" stroke="#efefef" stroke-width="0.8"/><line x1="377.04" y1="114.40" x2="377.04" y2="180.80" stroke="#efefef" stroke-width="0.8"/><line x1="394.40" y1="114.40" x2="394.40" y2="180.80" stroke="#efefef" stroke-width="0.8"/><line x1="411.76" y1="114.40" x2="411.76" y2="180.80" stroke="#efefef" stroke-width="0.8"/><line x1="429.12" y1="114.40" x2="429.12" y2="180.80" stroke="#efefef" stroke-width="0.8"/><line x1="446.47" y1="114.40" x2="446.47" y2="180.80" stroke="#efefef" stroke-width="0.8"/><line x1="327.40" y1="180.80" x2="461.40" y2="180.80" stroke="#efefef" stroke-width="0.8"/><line x1="327.40" y1="161.91" x2="461.40" y2="161.91" stroke="#efefef" stroke-width="0.8"/><line x1="327.40" y1="143.02" x2="461.40" y2="143.02" stroke="#efefef" stroke-width="0.8"/><line x1="327.40" y1="124.13" x2="461.40" y2="124.13" stroke="#efefef" stroke-width="0.8"/><rect x="327.40" y="114.40" width="134.00" height="66.40" fill="none" stroke="#bdbdbd" stroke-width="0.9"/><line x1="342.33" y1="180.80" x2="342.33" y2="179.50" stroke="#bdbdbd" stroke-width="0.8"/><line x1="342.33" y1="114.40" x2="342.33" y2="115.70" stroke="#bdbdbd" stroke-width="0.8"/><line x1="359.68" y1="180.80" x2="359.68" y2="179.50" stroke="#bdbdbd" stroke-width="0.8"/><line x1="359.68" y1="114.40" x2="359.68" y2="115.70" stroke="#bdbdbd" stroke-width="0.8"/><line x1="377.04" y1="180.80" x2="377.04" y2="179.50" stroke="#bdbdbd" stroke-width="0.8"/><line x1="377.04" y1="114.40" x2="377.04" y2="115.70" stroke="#bdbdbd" stroke-width="0.8"/><line x1="394.40" y1="180.80" x2="394.40" y2="179.50" stroke="#bdbdbd" stroke-width="0.8"/><line x1="394.40" y1="114.40" x2="394.40" y2="115.70" stroke="#bdbdbd" stroke-width="0.8"/><line x1="411.76" y1="180.80" x2="411.76" y2="179.50" stroke="#bdbdbd" stroke-width="0.8"/><line x1="411.76" y1="114.40" x2="411.76" y2="115.70" stroke="#bdbdbd" stroke-width="0.8"/><line x1="429.12" y1="180.80" x2="429.12" y2="179.50" stroke="#bdbdbd" stroke-width="0.8"/><line x1="429.12" y1="114.40" x2="429.12" y2="115.70" stroke="#bdbdbd" stroke-width="0.8"/><line x1="446.47" y1="180.80" x2="446.47" y2="179.50" stroke="#bdbdbd" stroke-width="0.8"/><line x1="446.47" y1="114.40" x2="446.47" y2="115.70" stroke="#bdbdbd" stroke-width="0.8"/><line x1="327.40" y1="180.80" x2="328.70" y2="180.80" stroke="#bdbdbd" stroke-width="0.8"/><line x1="461.40" y1="180.80" x2="460.10" y2="180.80" stroke="#bdbdbd" stroke-width="0.8"/><line x1="327.40" y1="161.91" x2="328.70" y2="161.91" stroke="#bdbdbd" stroke-width="0.8"/><line x1="461.40" y1="161.91" x2="460.10" y2="161.91" stroke="#bdbdbd" stroke-width="0.8"/><line x1="327.40" y1="143.02" x2="328.70" y2="143.02" stroke="#bdbdbd" stroke-width="0.8"/><line x1="461.40" y1="143.02" x2="460.10" y2="143.02" stroke="#bdbdbd" stroke-width="0.8"/><line x1="327.40" y1="124.13" x2="328.70" y2="124.13" stroke="#bdbdbd" stroke-width="0.8"/><line x1="461.40" y1="124.13" x2="460.10" y2="124.13" stroke="#bdbdbd" stroke-width="0.8"/><g clip-path="url(#c21)" fill="none" stroke-width="2.0" stroke-linejoin="round" stroke-linecap="round"><polyline stroke="#0072BD" points="327.40,180.23 329.45,180.14 332.34,180.02 335.73,179.87 339.32,179.69 342.78,179.50 345.80,179.29 348.48,179.04 351.12,178.75 353.62,178.44 355.93,178.13 357.98,177.84 359.68,177.59 360.97,177.38 361.87,177.21 362.51,177.05 363.00,176.90 363.46,176.74 364.02,176.55 364.66,176.36 365.26,176.19 365.84,176.01 366.40,175.79 366.95,175.51 367.50,175.13 368.03,174.66 368.56,174.12 369.07,173.51 369.57,172.84 370.06,172.12 370.53,171.35 371.00,170.48 371.45,169.47 371.89,168.40 372.32,167.37 372.73,166.44 373.14,165.69 373.51,165.12 373.84,164.66 374.17,164.30 374.50,164.04 374.87,163.88 375.31,163.80 375.80,163.85 376.35,164.05 376.93,164.34 377.54,164.67 378.16,164.98 378.78,165.22 379.41,165.39 380.08,165.55 380.76,165.70 381.43,165.82 382.08,165.91 382.68,165.97 383.24,166.01 383.74,166.05 384.23,166.05 384.71,166.01 385.20,165.89 385.72,165.69 386.28,165.38 386.88,164.99 387.48,164.52 388.08,164.00 388.66,163.44 389.19,162.85 389.70,162.12 390.19,161.20 390.66,160.23 391.09,159.37 391.47,158.75 391.80,158.51 392.04,158.70 392.21,159.20 392.33,159.95 392.43,160.86 392.53,161.85 392.66,162.85 392.82,163.87 392.98,164.97 393.15,166.15 393.31,167.42 393.47,168.77 393.62,170.22 393.76,172.04 393.89,174.29 394.02,176.63 394.15,178.72 394.27,180.22 394.40,180.80 394.53,180.22 394.65,178.72 394.78,176.63 394.91,174.29 395.04,172.04 395.18,170.22 395.33,168.77 395.49,167.42 395.65,166.15 395.82,164.97 395.98,163.87 396.14,162.85 396.27,161.85 396.37,160.86 396.47,159.95 396.59,159.20 396.76,158.70 397.00,158.51 397.33,158.75 397.71,159.37 398.14,160.23 398.61,161.20 399.10,162.12 399.61,162.85 400.14,163.44 400.72,164.00 401.32,164.52 401.92,164.99 402.52,165.38 403.08,165.69 403.60,165.89 404.09,166.01 404.57,166.05 405.06,166.05 405.56,166.01 406.12,165.97 406.72,165.91 407.37,165.82 408.04,165.70 408.72,165.55 409.39,165.39 410.02,165.22 410.64,164.98 411.26,164.67 411.87,164.34 412.45,164.05 413.00,163.85 413.49,163.80 413.93,163.88 414.30,164.04 414.63,164.30 414.96,164.66 415.29,165.12 415.66,165.69 416.07,166.44 416.48,167.37 416.91,168.40 417.35,169.47 417.80,170.48 418.27,171.35 418.74,172.12 419.23,172.84 419.73,173.51 420.24,174.12 420.77,174.66 421.30,175.13 421.85,175.51 422.40,175.79 422.96,176.01 423.54,176.19 424.14,176.36 424.78,176.55 425.34,176.74 425.80,176.90 426.29,177.05 426.93,177.21 427.83,177.38 429.12,177.59 430.82,177.84 432.87,178.13 435.18,178.44 437.68,178.75 440.32,179.04 443.00,179.29 446.02,179.50 449.48,179.69 453.07,179.87 456.46,180.02 459.35,180.14 461.40,180.23"/><polyline stroke="#D95319" points="327.40,180.42 329.00,180.36 331.18,180.29 333.78,180.20 336.62,180.09 339.53,179.94 342.33,179.76 345.18,179.53 348.25,179.27 351.40,178.97 354.45,178.65 357.27,178.31 359.68,177.97 361.65,177.61 363.29,177.23 364.68,176.83 365.92,176.43 367.12,176.02 368.36,175.61 369.60,175.14 370.74,174.60 371.84,174.05 372.93,173.57 374.07,173.21 375.31,173.05 376.69,173.16 378.20,173.50 379.75,173.97 381.29,174.46 382.72,174.89 383.99,175.13 385.08,175.25 386.06,175.34 386.94,175.36 387.75,175.26 388.49,175.01 389.19,174.57 389.83,173.86 390.40,172.91 390.90,171.80 391.36,170.64 391.80,169.52 392.23,168.52 392.64,167.55 393.02,166.50 393.37,165.49 393.71,164.62 394.05,164.02 394.40,163.80 394.75,164.02 395.09,164.62 395.43,165.49 395.78,166.50 396.16,167.55 396.57,168.52 397.00,169.52 397.44,170.64 397.90,171.80 398.40,172.91 398.97,173.86 399.61,174.57 400.31,175.01 401.05,175.26 401.86,175.36 402.74,175.34 403.72,175.25 404.81,175.13 406.08,174.89 407.51,174.46 409.05,173.97 410.60,173.50 412.11,173.16 413.49,173.05 414.73,173.21 415.87,173.57 416.96,174.05 418.06,174.60 419.20,175.14 420.44,175.61 421.68,176.02 422.88,176.43 424.12,176.83 425.51,177.23 427.15,177.61 429.12,177.97 431.53,178.31 434.35,178.65 437.40,178.97 440.55,179.27 443.62,179.53 446.47,179.76 449.27,179.94 452.18,180.09 455.02,180.20 457.62,180.29 459.80,180.36 461.40,180.42"/></g><text transform="translate(342.33,188.80) scale(1,1.12)" font-size="6.6" text-anchor="middle">-600</text><text transform="translate(359.68,188.80) scale(1,1.12)" font-size="6.6" text-anchor="middle">-400</text><text transform="translate(377.04,188.80) scale(1,1.12)" font-size="6.6" text-anchor="middle">-200</text><text transform="translate(394.40,188.80) scale(1,1.12)" font-size="6.6" text-anchor="middle">0</text><text transform="translate(411.76,188.80) scale(1,1.12)" font-size="6.6" text-anchor="middle">200</text><text transform="translate(429.12,188.80) scale(1,1.12)" font-size="6.6" text-anchor="middle">400</text><text transform="translate(446.47,188.80) scale(1,1.12)" font-size="6.6" text-anchor="middle">600</text><text transform="translate(326.25,183.40) scale(1,1.12)" font-size="6.6" text-anchor="end">0</text><text transform="translate(326.25,164.51) scale(1,1.12)" font-size="6.6" text-anchor="end">0.2</text><text transform="translate(326.25,145.62) scale(1,1.12)" font-size="6.6" text-anchor="end">0.4</text><text transform="translate(326.25,126.73) scale(1,1.12)" font-size="6.6" text-anchor="end">0.6</text><text transform="translate(394.40,195.80) scale(1,1.12)" font-size="6.9" text-anchor="middle">Bias amplitude / nT</text><text transform="translate(317.00,148.10) rotate(-90) scale(1,1.12)" font-size="6.800000000000001" text-anchor="middle">Harmonics amplitude / V</text><text x="389.20" y="211.20" font-size="10" text-anchor="middle" class="sub">(g)</text><rect x="430.10" y="114.30" width="29.80" height="16.00" fill="#fff" stroke="#bdbdbd" stroke-width="0.8"/><line x1="430.70" y1="119.90" x2="435.30" y2="119.90" stroke="#0072BD" stroke-width="1.9"/><text transform="translate(435.50,122.00) scale(1,1.12)" font-size="6.2">1st order</text><line x1="430.70" y1="126.90" x2="435.30" y2="126.90" stroke="#D95319" stroke-width="1.9"/><text transform="translate(435.50,129.00) scale(1,1.12)" font-size="6.2">2nd order</text><clipPath id="c31"><rect x="483.40" y="113.40" width="132.90" height="68.60"/></clipPath><line x1="498.33" y1="114.40" x2="498.33" y2="180.80" stroke="#efefef" stroke-width="0.8"/><line x1="515.68" y1="114.40" x2="515.68" y2="180.80" stroke="#efefef" stroke-width="0.8"/><line x1="533.04" y1="114.40" x2="533.04" y2="180.80" stroke="#efefef" stroke-width="0.8"/><line x1="550.40" y1="114.40" x2="550.40" y2="180.80" stroke="#efefef" stroke-width="0.8"/><line x1="567.76" y1="114.40" x2="567.76" y2="180.80" stroke="#efefef" stroke-width="0.8"/><line x1="585.12" y1="114.40" x2="585.12" y2="180.80" stroke="#efefef" stroke-width="0.8"/><line x1="602.47" y1="114.40" x2="602.47" y2="180.80" stroke="#efefef" stroke-width="0.8"/><line x1="483.40" y1="180.80" x2="616.30" y2="180.80" stroke="#efefef" stroke-width="0.8"/><line x1="483.40" y1="161.91" x2="616.30" y2="161.91" stroke="#efefef" stroke-width="0.8"/><line x1="483.40" y1="143.02" x2="616.30" y2="143.02" stroke="#efefef" stroke-width="0.8"/><line x1="483.40" y1="124.13" x2="616.30" y2="124.13" stroke="#efefef" stroke-width="0.8"/><rect x="483.40" y="114.40" width="132.90" height="66.40" fill="none" stroke="#bdbdbd" stroke-width="0.9"/><line x1="498.33" y1="180.80" x2="498.33" y2="179.50" stroke="#bdbdbd" stroke-width="0.8"/><line x1="498.33" y1="114.40" x2="498.33" y2="115.70" stroke="#bdbdbd" stroke-width="0.8"/><line x1="515.68" y1="180.80" x2="515.68" y2="179.50" stroke="#bdbdbd" stroke-width="0.8"/><line x1="515.68" y1="114.40" x2="515.68" y2="115.70" stroke="#bdbdbd" stroke-width="0.8"/><line x1="533.04" y1="180.80" x2="533.04" y2="179.50" stroke="#bdbdbd" stroke-width="0.8"/><line x1="533.04" y1="114.40" x2="533.04" y2="115.70" stroke="#bdbdbd" stroke-width="0.8"/><line x1="550.40" y1="180.80" x2="550.40" y2="179.50" stroke="#bdbdbd" stroke-width="0.8"/><line x1="550.40" y1="114.40" x2="550.40" y2="115.70" stroke="#bdbdbd" stroke-width="0.8"/><line x1="567.76" y1="180.80" x2="567.76" y2="179.50" stroke="#bdbdbd" stroke-width="0.8"/><line x1="567.76" y1="114.40" x2="567.76" y2="115.70" stroke="#bdbdbd" stroke-width="0.8"/><line x1="585.12" y1="180.80" x2="585.12" y2="179.50" stroke="#bdbdbd" stroke-width="0.8"/><line x1="585.12" y1="114.40" x2="585.12" y2="115.70" stroke="#bdbdbd" stroke-width="0.8"/><line x1="602.47" y1="180.80" x2="602.47" y2="179.50" stroke="#bdbdbd" stroke-width="0.8"/><line x1="602.47" y1="114.40" x2="602.47" y2="115.70" stroke="#bdbdbd" stroke-width="0.8"/><line x1="483.40" y1="180.80" x2="484.70" y2="180.80" stroke="#bdbdbd" stroke-width="0.8"/><line x1="616.30" y1="180.80" x2="615.00" y2="180.80" stroke="#bdbdbd" stroke-width="0.8"/><line x1="483.40" y1="161.91" x2="484.70" y2="161.91" stroke="#bdbdbd" stroke-width="0.8"/><line x1="616.30" y1="161.91" x2="615.00" y2="161.91" stroke="#bdbdbd" stroke-width="0.8"/><line x1="483.40" y1="143.02" x2="484.70" y2="143.02" stroke="#bdbdbd" stroke-width="0.8"/><line x1="616.30" y1="143.02" x2="615.00" y2="143.02" stroke="#bdbdbd" stroke-width="0.8"/><line x1="483.40" y1="124.13" x2="484.70" y2="124.13" stroke="#bdbdbd" stroke-width="0.8"/><line x1="616.30" y1="124.13" x2="615.00" y2="124.13" stroke="#bdbdbd" stroke-width="0.8"/><g clip-path="url(#c31)" fill="none" stroke-width="2.0" stroke-linejoin="round" stroke-linecap="round"><polyline stroke="#0072BD" points="483.40,179.29 485.31,179.18 488.02,179.04 491.19,178.86 494.48,178.68 497.56,178.50 500.06,178.34 501.97,178.21 503.53,178.10 504.88,177.99 506.12,177.88 507.37,177.75 508.74,177.59 510.29,177.40 511.94,177.20 513.60,176.98 515.18,176.75 516.60,176.51 517.77,176.27 518.62,176.05 519.22,175.85 519.66,175.65 520.02,175.40 520.40,175.08 520.89,174.66 521.49,174.11 522.11,173.46 522.75,172.73 523.40,171.96 524.03,171.18 524.62,170.41 525.20,169.62 525.76,168.78 526.31,167.92 526.84,167.09 527.35,166.33 527.84,165.69 528.27,165.12 528.65,164.58 529.02,164.11 529.40,163.75 529.83,163.54 530.35,163.52 530.98,163.75 531.69,164.22 532.45,164.84 533.23,165.51 534.02,166.14 534.78,166.63 535.53,167.02 536.29,167.38 537.06,167.70 537.81,167.96 538.53,168.15 539.20,168.24 539.83,168.24 540.42,168.16 540.98,168.00 541.53,167.77 542.06,167.47 542.59,167.10 543.12,166.65 543.65,166.12 544.17,165.51 544.68,164.85 545.16,164.15 545.63,163.42 546.08,162.54 546.52,161.47 546.94,160.36 547.33,159.36 547.68,158.63 547.97,158.32 548.19,158.49 548.34,159.02 548.45,159.83 548.54,160.80 548.63,161.84 548.75,162.85 548.89,163.84 549.04,164.89 549.18,166.00 549.33,167.20 549.48,168.51 549.62,169.94 549.75,171.78 549.89,174.08 550.01,176.49 550.14,178.65 550.27,180.20 550.40,180.80 550.53,180.20 550.66,178.65 550.79,176.49 550.91,174.08 551.05,171.78 551.18,169.94 551.32,168.51 551.47,167.20 551.62,166.00 551.76,164.89 551.91,163.84 552.05,162.85 552.17,161.84 552.26,160.80 552.35,159.83 552.46,159.02 552.61,158.49 552.83,158.32 553.12,158.63 553.47,159.36 553.86,160.36 554.28,161.47 554.72,162.54 555.17,163.42 555.64,164.15 556.12,164.85 556.63,165.51 557.15,166.12 557.68,166.65 558.21,167.10 558.74,167.47 559.27,167.77 559.82,168.00 560.38,168.16 560.97,168.24 561.60,168.24 562.27,168.15 562.99,167.96 563.74,167.70 564.51,167.38 565.27,167.02 566.02,166.63 566.78,166.14 567.57,165.51 568.35,164.84 569.11,164.22 569.82,163.75 570.45,163.52 570.97,163.54 571.40,163.75 571.78,164.11 572.15,164.58 572.53,165.12 572.96,165.69 573.45,166.33 573.96,167.09 574.49,167.92 575.04,168.78 575.60,169.62 576.18,170.41 576.77,171.18 577.40,171.96 578.05,172.73 578.69,173.46 579.31,174.11 579.91,174.66 580.40,175.08 580.78,175.40 581.14,175.65 581.58,175.85 582.18,176.05 583.03,176.27 584.20,176.51 585.62,176.75 587.20,176.98 588.86,177.20 590.51,177.40 592.06,177.59 593.43,177.75 594.68,177.88 595.92,177.99 597.27,178.10 598.83,178.21 600.74,178.34 603.24,178.50 606.32,178.68 609.61,178.86 612.78,179.04 615.49,179.18 617.40,179.29"/><polyline stroke="#D95319" points="483.40,180.04 485.20,179.95 487.68,179.84 490.63,179.70 493.81,179.53 497.03,179.33 500.06,179.10 503.08,178.81 506.30,178.47 509.54,178.09 512.65,177.71 515.45,177.34 517.77,177.02 519.53,176.75 520.84,176.50 521.85,176.27 522.68,176.05 523.47,175.83 524.36,175.61 525.28,175.33 526.11,175.01 526.90,174.69 527.71,174.42 528.58,174.23 529.57,174.19 530.74,174.32 532.05,174.62 533.43,175.00 534.80,175.41 536.09,175.79 537.21,176.08 538.15,176.28 538.98,176.45 539.73,176.59 540.41,176.70 541.07,176.78 541.72,176.83 542.37,176.87 542.99,176.89 543.58,176.89 544.14,176.84 544.68,176.73 545.19,176.55 545.69,176.29 546.17,175.97 546.62,175.59 547.05,175.16 547.44,174.69 547.80,174.19 548.10,173.66 548.36,173.09 548.58,172.49 548.78,171.84 548.98,171.15 549.18,170.41 549.40,169.48 549.60,168.34 549.80,167.15 550.00,166.08 550.20,165.32 550.40,165.03 550.60,165.32 550.80,166.08 551.00,167.15 551.20,168.34 551.40,169.48 551.62,170.41 551.82,171.15 552.02,171.84 552.22,172.49 552.44,173.09 552.70,173.66 553.00,174.19 553.36,174.69 553.75,175.16 554.18,175.59 554.63,175.97 555.11,176.29 555.61,176.55 556.12,176.73 556.66,176.84 557.22,176.89 557.81,176.89 558.43,176.87 559.08,176.83 559.73,176.78 560.39,176.70 561.07,176.59 561.82,176.45 562.65,176.28 563.59,176.08 564.71,175.79 566.00,175.41 567.37,175.00 568.75,174.62 570.06,174.32 571.23,174.19 572.22,174.23 573.09,174.42 573.90,174.69 574.69,175.01 575.52,175.33 576.44,175.61 577.33,175.83 578.12,176.05 578.95,176.27 579.96,176.50 581.27,176.75 583.03,177.02 585.35,177.34 588.15,177.71 591.26,178.09 594.50,178.47 597.72,178.81 600.74,179.10 603.77,179.33 606.99,179.53 610.17,179.70 613.12,179.84 615.60,179.95 617.40,180.04"/></g><text transform="translate(498.33,188.80) scale(1,1.12)" font-size="6.6" text-anchor="middle">-600</text><text transform="translate(515.68,188.80) scale(1,1.12)" font-size="6.6" text-anchor="middle">-400</text><text transform="translate(533.04,188.80) scale(1,1.12)" font-size="6.6" text-anchor="middle">-200</text><text transform="translate(550.40,188.80) scale(1,1.12)" font-size="6.6" text-anchor="middle">0</text><text transform="translate(567.76,188.80) scale(1,1.12)" font-size="6.6" text-anchor="middle">200</text><text transform="translate(585.12,188.80) scale(1,1.12)" font-size="6.6" text-anchor="middle">400</text><text transform="translate(602.47,188.80) scale(1,1.12)" font-size="6.6" text-anchor="middle">600</text><text transform="translate(482.25,183.40) scale(1,1.12)" font-size="6.6" text-anchor="end">0</text><text transform="translate(482.25,164.51) scale(1,1.12)" font-size="6.6" text-anchor="end">0.2</text><text transform="translate(482.25,145.62) scale(1,1.12)" font-size="6.6" text-anchor="end">0.4</text><text transform="translate(482.25,126.73) scale(1,1.12)" font-size="6.6" text-anchor="end">0.6</text><text transform="translate(550.40,195.80) scale(1,1.12)" font-size="6.9" text-anchor="middle">Bias amplitude</text><text transform="translate(473.00,148.10) rotate(-90) scale(1,1.12)" font-size="6.800000000000001" text-anchor="middle">Harmonics amplitude</text><text x="545.20" y="211.20" font-size="10" text-anchor="middle" class="sub">(h)</text><rect x="585.00" y="114.30" width="29.80" height="16.00" fill="#fff" stroke="#bdbdbd" stroke-width="0.8"/><line x1="585.60" y1="119.90" x2="590.20" y2="119.90" stroke="#0072BD" stroke-width="1.9"/><text transform="translate(590.40,122.00) scale(1,1.12)" font-size="6.2">1st order</text><line x1="585.60" y1="126.90" x2="590.20" y2="126.90" stroke="#D95319" stroke-width="1.9"/><text transform="translate(590.40,129.00) scale(1,1.12)" font-size="6.2">2nd order</text><clipPath id="c12"><rect x="171.75" y="226.30" width="134.00" height="68.60"/></clipPath><line x1="171.75" y1="227.30" x2="171.75" y2="293.70" stroke="#efefef" stroke-width="0.8"/><line x1="189.11" y1="227.30" x2="189.11" y2="293.70" stroke="#efefef" stroke-width="0.8"/><line x1="206.47" y1="227.30" x2="206.47" y2="293.70" stroke="#efefef" stroke-width="0.8"/><line x1="223.82" y1="227.30" x2="223.82" y2="293.70" stroke="#efefef" stroke-width="0.8"/><line x1="241.18" y1="227.30" x2="241.18" y2="293.70" stroke="#efefef" stroke-width="0.8"/><line x1="258.54" y1="227.30" x2="258.54" y2="293.70" stroke="#efefef" stroke-width="0.8"/><line x1="275.90" y1="227.30" x2="275.90" y2="293.70" stroke="#efefef" stroke-width="0.8"/><line x1="293.25" y1="227.30" x2="293.25" y2="293.70" stroke="#efefef" stroke-width="0.8"/><line x1="171.75" y1="293.70" x2="305.75" y2="293.70" stroke="#efefef" stroke-width="0.8"/><line x1="171.75" y1="274.81" x2="305.75" y2="274.81" stroke="#efefef" stroke-width="0.8"/><line x1="171.75" y1="255.92" x2="305.75" y2="255.92" stroke="#efefef" stroke-width="0.8"/><line x1="171.75" y1="237.03" x2="305.75" y2="237.03" stroke="#efefef" stroke-width="0.8"/><rect x="171.75" y="227.30" width="134.00" height="66.40" fill="none" stroke="#bdbdbd" stroke-width="0.9"/><line x1="171.75" y1="293.70" x2="171.75" y2="292.40" stroke="#bdbdbd" stroke-width="0.8"/><line x1="171.75" y1="227.30" x2="171.75" y2="228.60" stroke="#bdbdbd" stroke-width="0.8"/><line x1="189.11" y1="293.70" x2="189.11" y2="292.40" stroke="#bdbdbd" stroke-width="0.8"/><line x1="189.11" y1="227.30" x2="189.11" y2="228.60" stroke="#bdbdbd" stroke-width="0.8"/><line x1="206.47" y1="293.70" x2="206.47" y2="292.40" stroke="#bdbdbd" stroke-width="0.8"/><line x1="206.47" y1="227.30" x2="206.47" y2="228.60" stroke="#bdbdbd" stroke-width="0.8"/><line x1="223.82" y1="293.70" x2="223.82" y2="292.40" stroke="#bdbdbd" stroke-width="0.8"/><line x1="223.82" y1="227.30" x2="223.82" y2="228.60" stroke="#bdbdbd" stroke-width="0.8"/><line x1="241.18" y1="293.70" x2="241.18" y2="292.40" stroke="#bdbdbd" stroke-width="0.8"/><line x1="241.18" y1="227.30" x2="241.18" y2="228.60" stroke="#bdbdbd" stroke-width="0.8"/><line x1="258.54" y1="293.70" x2="258.54" y2="292.40" stroke="#bdbdbd" stroke-width="0.8"/><line x1="258.54" y1="227.30" x2="258.54" y2="228.60" stroke="#bdbdbd" stroke-width="0.8"/><line x1="275.90" y1="293.70" x2="275.90" y2="292.40" stroke="#bdbdbd" stroke-width="0.8"/><line x1="275.90" y1="227.30" x2="275.90" y2="228.60" stroke="#bdbdbd" stroke-width="0.8"/><line x1="293.25" y1="293.70" x2="293.25" y2="292.40" stroke="#bdbdbd" stroke-width="0.8"/><line x1="293.25" y1="227.30" x2="293.25" y2="228.60" stroke="#bdbdbd" stroke-width="0.8"/><line x1="171.75" y1="293.70" x2="173.05" y2="293.70" stroke="#bdbdbd" stroke-width="0.8"/><line x1="305.75" y1="293.70" x2="304.45" y2="293.70" stroke="#bdbdbd" stroke-width="0.8"/><line x1="171.75" y1="274.81" x2="173.05" y2="274.81" stroke="#bdbdbd" stroke-width="0.8"/><line x1="305.75" y1="274.81" x2="304.45" y2="274.81" stroke="#bdbdbd" stroke-width="0.8"/><line x1="171.75" y1="255.92" x2="173.05" y2="255.92" stroke="#bdbdbd" stroke-width="0.8"/><line x1="305.75" y1="255.92" x2="304.45" y2="255.92" stroke="#bdbdbd" stroke-width="0.8"/><line x1="171.75" y1="237.03" x2="173.05" y2="237.03" stroke="#bdbdbd" stroke-width="0.8"/><line x1="305.75" y1="237.03" x2="304.45" y2="237.03" stroke="#bdbdbd" stroke-width="0.8"/><g clip-path="url(#c12)" fill="none" stroke-width="2.0" stroke-linejoin="round" stroke-linecap="round"><polyline stroke="#0072BD" points="171.75,293.70 172.23,290.48 172.91,285.90 173.70,280.54 174.55,274.95 175.37,269.70 176.09,265.36 176.72,261.83 177.33,258.63 177.91,255.77 178.47,253.26 179.02,251.10 179.56,249.31 180.08,247.94 180.58,247.02 181.06,246.44 181.53,246.14 182.02,246.02 182.51,246.00 183.01,246.11 183.49,246.42 183.98,246.92 184.49,247.58 185.03,248.38 185.64,249.31 186.25,250.35 186.86,251.52 187.50,252.83 188.23,254.31 189.10,255.96 190.15,257.81 191.42,260.14 192.89,263.00 194.49,266.03 196.17,268.90 197.86,271.25 199.52,272.73 201.09,273.01 202.59,272.29 204.11,271.05 205.73,269.78 207.53,268.95 209.59,269.05 211.99,270.31 214.70,272.41 217.58,274.95 220.52,277.55 223.40,279.83 226.08,281.42 228.51,282.22 230.77,282.53 232.96,282.52 235.18,282.37 237.54,282.26 240.14,282.37 242.96,282.68 245.91,283.07 249.00,283.49 252.22,283.92 255.58,284.34 259.06,284.73 262.73,285.08 266.60,285.42 270.60,285.74 274.66,286.05 278.71,286.34 282.66,286.62 286.81,286.87 291.25,287.12 295.68,287.35 299.78,287.55 303.24,287.72 305.75,287.84"/><polyline stroke="#D95319" points="171.75,293.70 172.18,290.46 172.79,285.86 173.51,280.48 174.26,274.88 174.97,269.65 175.57,265.36 176.05,261.94 176.48,258.91 176.87,256.24 177.24,253.93 177.61,251.93 178.00,250.25 178.39,248.94 178.77,248.03 179.15,247.45 179.54,247.12 179.96,246.98 180.43,246.95 180.91,247.01 181.41,247.23 181.93,247.62 182.50,248.24 183.15,249.11 183.90,250.25 184.75,251.79 185.67,253.72 186.68,255.89 187.76,258.18 188.91,260.44 190.15,262.53 191.46,264.77 192.86,267.32 194.34,269.85 195.88,272.01 197.50,273.46 199.17,273.87 200.96,272.64 202.88,269.95 204.86,266.54 206.85,263.20 208.79,260.66 210.63,259.70 212.34,260.59 213.97,262.78 215.56,265.78 217.12,269.11 218.71,272.28 220.35,274.81 222.01,276.83 223.64,278.75 225.30,280.51 227.01,282.05 228.82,283.32 230.77,284.25 232.80,284.72 234.88,284.74 237.06,284.49 239.38,284.13 241.90,283.84 244.65,283.78 247.71,284.02 251.04,284.41 254.56,284.87 258.19,285.30 261.86,285.60 265.48,285.67 269.13,285.41 272.88,284.88 276.67,284.23 280.41,283.57 284.06,283.06 287.52,282.84 290.99,282.96 294.56,283.33 298.02,283.84 301.17,284.39 303.81,284.88 305.75,285.20"/></g><text transform="translate(171.75,301.70) scale(1,1.12)" font-size="6.6" text-anchor="middle">0</text><text transform="translate(189.11,301.70) scale(1,1.12)" font-size="6.6" text-anchor="middle">100</text><text transform="translate(206.47,301.70) scale(1,1.12)" font-size="6.6" text-anchor="middle">200</text><text transform="translate(223.82,301.70) scale(1,1.12)" font-size="6.6" text-anchor="middle">300</text><text transform="translate(241.18,301.70) scale(1,1.12)" font-size="6.6" text-anchor="middle">400</text><text transform="translate(258.54,301.70) scale(1,1.12)" font-size="6.6" text-anchor="middle">500</text><text transform="translate(275.90,301.70) scale(1,1.12)" font-size="6.6" text-anchor="middle">600</text><text transform="translate(293.25,301.70) scale(1,1.12)" font-size="6.6" text-anchor="middle">700</text><text transform="translate(170.60,296.30) scale(1,1.12)" font-size="6.6" text-anchor="end">0</text><text transform="translate(170.60,277.41) scale(1,1.12)" font-size="6.6" text-anchor="end">0.2</text><text transform="translate(170.60,258.52) scale(1,1.12)" font-size="6.6" text-anchor="end">0.4</text><text transform="translate(170.60,239.63) scale(1,1.12)" font-size="6.6" text-anchor="end">0.6</text><text transform="translate(238.75,308.70) scale(1,1.12)" font-size="6.9" text-anchor="middle">Modulated amplitude / nT</text><text transform="translate(161.35,261.00) rotate(-90) scale(1,1.12)" font-size="6.800000000000001" text-anchor="middle">Harmonic amplitude / V</text><text x="233.55" y="324.10" font-size="10" text-anchor="middle" class="sub">(i)</text><rect x="240.05" y="227.20" width="64.20" height="16.00" fill="#fff" stroke="#bdbdbd" stroke-width="0.8"/><line x1="240.65" y1="232.80" x2="245.25" y2="232.80" stroke="#0072BD" stroke-width="1.9"/><text transform="translate(245.45,234.90) scale(1,1.12)" font-size="6.2">2nd order experimental</text><line x1="240.65" y1="239.80" x2="245.25" y2="239.80" stroke="#D95319" stroke-width="1.9"/><text transform="translate(245.45,241.90) scale(1,1.12)" font-size="6.2">2nd order calculation</text><clipPath id="c22"><rect x="327.65" y="226.30" width="134.00" height="68.60"/></clipPath><line x1="327.65" y1="227.30" x2="327.65" y2="293.70" stroke="#efefef" stroke-width="0.8"/><line x1="345.01" y1="227.30" x2="345.01" y2="293.70" stroke="#efefef" stroke-width="0.8"/><line x1="362.37" y1="227.30" x2="362.37" y2="293.70" stroke="#efefef" stroke-width="0.8"/><line x1="379.72" y1="227.30" x2="379.72" y2="293.70" stroke="#efefef" stroke-width="0.8"/><line x1="397.08" y1="227.30" x2="397.08" y2="293.70" stroke="#efefef" stroke-width="0.8"/><line x1="414.44" y1="227.30" x2="414.44" y2="293.70" stroke="#efefef" stroke-width="0.8"/><line x1="431.80" y1="227.30" x2="431.80" y2="293.70" stroke="#efefef" stroke-width="0.8"/><line x1="449.15" y1="227.30" x2="449.15" y2="293.70" stroke="#efefef" stroke-width="0.8"/><line x1="327.65" y1="293.70" x2="461.65" y2="293.70" stroke="#efefef" stroke-width="0.8"/><line x1="327.65" y1="274.81" x2="461.65" y2="274.81" stroke="#efefef" stroke-width="0.8"/><line x1="327.65" y1="255.92" x2="461.65" y2="255.92" stroke="#efefef" stroke-width="0.8"/><line x1="327.65" y1="237.03" x2="461.65" y2="237.03" stroke="#efefef" stroke-width="0.8"/><rect x="327.65" y="227.30" width="134.00" height="66.40" fill="none" stroke="#bdbdbd" stroke-width="0.9"/><line x1="327.65" y1="293.70" x2="327.65" y2="292.40" stroke="#bdbdbd" stroke-width="0.8"/><line x1="327.65" y1="227.30" x2="327.65" y2="228.60" stroke="#bdbdbd" stroke-width="0.8"/><line x1="345.01" y1="293.70" x2="345.01" y2="292.40" stroke="#bdbdbd" stroke-width="0.8"/><line x1="345.01" y1="227.30" x2="345.01" y2="228.60" stroke="#bdbdbd" stroke-width="0.8"/><line x1="362.37" y1="293.70" x2="362.37" y2="292.40" stroke="#bdbdbd" stroke-width="0.8"/><line x1="362.37" y1="227.30" x2="362.37" y2="228.60" stroke="#bdbdbd" stroke-width="0.8"/><line x1="379.72" y1="293.70" x2="379.72" y2="292.40" stroke="#bdbdbd" stroke-width="0.8"/><line x1="379.72" y1="227.30" x2="379.72" y2="228.60" stroke="#bdbdbd" stroke-width="0.8"/><line x1="397.08" y1="293.70" x2="397.08" y2="292.40" stroke="#bdbdbd" stroke-width="0.8"/><line x1="397.08" y1="227.30" x2="397.08" y2="228.60" stroke="#bdbdbd" stroke-width="0.8"/><line x1="414.44" y1="293.70" x2="414.44" y2="292.40" stroke="#bdbdbd" stroke-width="0.8"/><line x1="414.44" y1="227.30" x2="414.44" y2="228.60" stroke="#bdbdbd" stroke-width="0.8"/><line x1="431.80" y1="293.70" x2="431.80" y2="292.40" stroke="#bdbdbd" stroke-width="0.8"/><line x1="431.80" y1="227.30" x2="431.80" y2="228.60" stroke="#bdbdbd" stroke-width="0.8"/><line x1="449.15" y1="293.70" x2="449.15" y2="292.40" stroke="#bdbdbd" stroke-width="0.8"/><line x1="449.15" y1="227.30" x2="449.15" y2="228.60" stroke="#bdbdbd" stroke-width="0.8"/><line x1="327.65" y1="293.70" x2="328.95" y2="293.70" stroke="#bdbdbd" stroke-width="0.8"/><line x1="461.65" y1="293.70" x2="460.35" y2="293.70" stroke="#bdbdbd" stroke-width="0.8"/><line x1="327.65" y1="274.81" x2="328.95" y2="274.81" stroke="#bdbdbd" stroke-width="0.8"/><line x1="461.65" y1="274.81" x2="460.35" y2="274.81" stroke="#bdbdbd" stroke-width="0.8"/><line x1="327.65" y1="255.92" x2="328.95" y2="255.92" stroke="#bdbdbd" stroke-width="0.8"/><line x1="461.65" y1="255.92" x2="460.35" y2="255.92" stroke="#bdbdbd" stroke-width="0.8"/><line x1="327.65" y1="237.03" x2="328.95" y2="237.03" stroke="#bdbdbd" stroke-width="0.8"/><line x1="461.65" y1="237.03" x2="460.35" y2="237.03" stroke="#bdbdbd" stroke-width="0.8"/><g clip-path="url(#c22)" fill="none" stroke-width="2.0" stroke-linejoin="round" stroke-linecap="round"><polyline stroke="#0072BD" points="327.65,293.70 328.03,293.61 328.56,293.51 329.18,293.38 329.85,293.19 330.51,292.93 331.12,292.57 331.64,292.15 332.11,291.71 332.56,291.19 333.07,290.55 333.67,289.73 334.42,288.69 335.38,287.30 336.53,285.57 337.77,283.66 339.02,281.75 340.19,280.00 341.19,278.59 341.96,277.54 342.56,276.73 343.08,276.08 343.60,275.53 344.21,275.00 345.01,274.43 345.97,273.77 347.02,273.05 348.16,272.37 349.40,271.78 350.72,271.37 352.12,271.22 353.57,271.36 355.04,271.74 356.60,272.30 358.31,272.98 360.21,273.71 362.37,274.43 364.85,275.20 367.62,276.07 370.60,276.99 373.67,277.92 376.75,278.81 379.72,279.63 382.62,280.36 385.51,281.07 388.40,281.73 391.29,282.36 394.19,282.95 397.08,283.50 400.01,284.01 402.99,284.48 405.98,284.91 408.91,285.30 411.75,285.65 414.44,285.95 416.87,286.23 419.07,286.48 421.16,286.68 423.31,286.83 425.65,286.91 428.32,286.90 431.49,286.77 435.06,286.53 438.82,286.22 442.57,285.88 446.08,285.56 449.15,285.29 451.86,285.08 454.40,284.87 456.70,284.67 458.72,284.50 460.39,284.36 461.65,284.25"/><polyline stroke="#D95319" points="327.65,293.70 328.03,293.61 328.56,293.51 329.18,293.38 329.85,293.19 330.51,292.93 331.12,292.57 331.64,292.15 332.11,291.71 332.56,291.19 333.07,290.55 333.67,289.73 334.42,288.69 335.38,287.30 336.53,285.57 337.77,283.66 339.02,281.75 340.19,280.00 341.19,278.59 341.96,277.54 342.56,276.73 343.08,276.08 343.60,275.53 344.21,275.00 345.01,274.43 345.97,273.77 347.02,273.05 348.16,272.37 349.40,271.78 350.72,271.37 352.12,271.22 353.57,271.35 355.04,271.72 356.60,272.26 358.31,272.93 360.21,273.67 362.37,274.43 364.85,275.28 367.62,276.25 370.60,277.31 373.67,278.37 376.75,279.39 379.72,280.29 382.62,281.08 385.51,281.82 388.40,282.51 391.29,283.16 394.19,283.77 397.08,284.35 399.97,284.90 402.87,285.42 405.76,285.90 408.65,286.34 411.54,286.74 414.44,287.09 417.33,287.40 420.22,287.69 423.12,287.94 426.01,288.12 428.90,288.22 431.80,288.22 434.74,288.08 437.76,287.82 440.78,287.47 443.73,287.08 446.54,286.72 449.15,286.43 451.66,286.19 454.14,285.96 456.49,285.75 458.59,285.56 460.35,285.41 461.65,285.29"/></g><text transform="translate(327.65,301.70) scale(1,1.12)" font-size="6.6" text-anchor="middle">0</text><text transform="translate(345.01,301.70) scale(1,1.12)" font-size="6.6" text-anchor="middle">100</text><text transform="translate(362.37,301.70) scale(1,1.12)" font-size="6.6" text-anchor="middle">200</text><text transform="translate(379.72,301.70) scale(1,1.12)" font-size="6.6" text-anchor="middle">300</text><text transform="translate(397.08,301.70) scale(1,1.12)" font-size="6.6" text-anchor="middle">400</text><text transform="translate(414.44,301.70) scale(1,1.12)" font-size="6.6" text-anchor="middle">500</text><text transform="translate(431.80,301.70) scale(1,1.12)" font-size="6.6" text-anchor="middle">600</text><text transform="translate(449.15,301.70) scale(1,1.12)" font-size="6.6" text-anchor="middle">700</text><text transform="translate(326.50,296.30) scale(1,1.12)" font-size="6.6" text-anchor="end">0</text><text transform="translate(326.50,277.41) scale(1,1.12)" font-size="6.6" text-anchor="end">0.2</text><text transform="translate(326.50,258.52) scale(1,1.12)" font-size="6.6" text-anchor="end">0.4</text><text transform="translate(326.50,239.63) scale(1,1.12)" font-size="6.6" text-anchor="end">0.6</text><text transform="translate(394.65,308.70) scale(1,1.12)" font-size="6.9" text-anchor="middle">Modulated amplitude / nT</text><text transform="translate(317.25,261.00) rotate(-90) scale(1,1.12)" font-size="6.800000000000001" text-anchor="middle">Harmonic amplitude / V</text><text x="389.45" y="324.10" font-size="10" text-anchor="middle" class="sub">(j)</text><rect x="395.95" y="227.20" width="64.20" height="16.00" fill="#fff" stroke="#bdbdbd" stroke-width="0.8"/><line x1="396.55" y1="232.80" x2="401.15" y2="232.80" stroke="#0072BD" stroke-width="1.9"/><text transform="translate(401.35,234.90) scale(1,1.12)" font-size="6.2">2nd order experimental</text><line x1="396.55" y1="239.80" x2="401.15" y2="239.80" stroke="#D95319" stroke-width="1.9"/><text transform="translate(401.35,241.90) scale(1,1.12)" font-size="6.2">2nd order calculation</text></svg></body></html>
